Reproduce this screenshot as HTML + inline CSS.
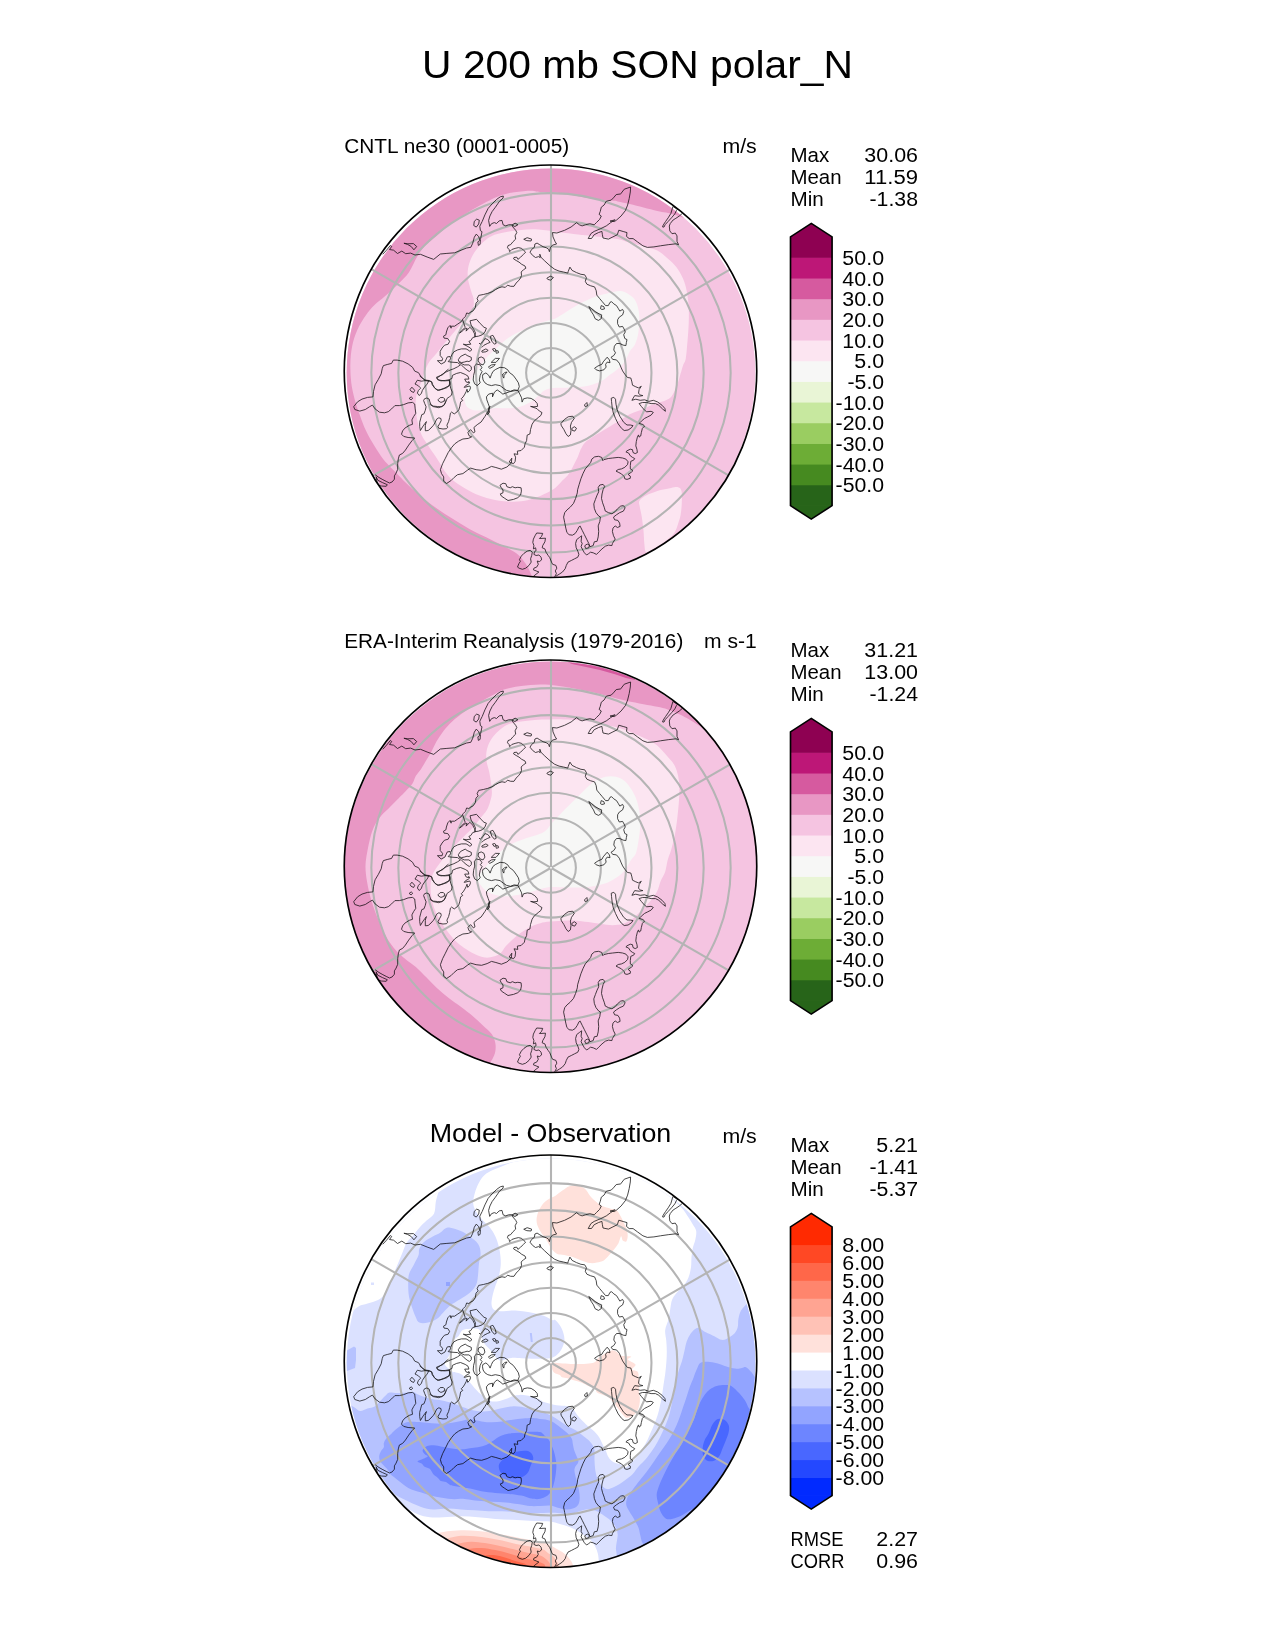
<!DOCTYPE html>
<html><head><meta charset="utf-8"><title>U 200 mb SON polar_N</title>
<style>html,body{margin:0;padding:0;background:#fff}body{width:1275px;height:1650px;overflow:hidden;position:relative}svg{position:absolute;left:0;top:0;display:block}text{font-family:"Liberation Sans",sans-serif;fill:#000}svg{will-change:transform;opacity:0.999}</style></head><body>
<svg width="1275" height="1650" viewBox="0 0 1275 1650">
<defs>
<clipPath id="clip0"><circle cx="550.50" cy="371.25" r="206.25"/></clipPath>
<clipPath id="dclip0"><circle cx="551.00" cy="372.80" r="204.30"/></clipPath>
<clipPath id="clip1"><circle cx="550.50" cy="866.25" r="206.25"/></clipPath>
<clipPath id="dclip1"><circle cx="551.00" cy="867.80" r="206.40"/></clipPath>
<clipPath id="clip2"><circle cx="550.50" cy="1361.25" r="206.25"/></clipPath>
<clipPath id="dclip2"><circle cx="551.00" cy="1362.80" r="204.30"/></clipPath>
<g id="coast" fill="none" stroke="#000" stroke-width="0.85" stroke-linejoin="round" stroke-linecap="round" opacity="0.85">
<path d="M478.2 241.6 L480.4 240.0 L480.1 244.4 L478.7 245.2Z"/>
<path d="M404.3 243.3 L407.9 243.8 L413.4 243.6 L416.7 246.5 L413.9 249.8 L411.2 246.5 L407.9 244.6Z"/>
<path d="M473.8 225.1 L474.3 221.3 L476.7 219.1 L479.3 220.2 L478.7 224.0 L476.5 226.8Z"/>
<path d="M383.0 254.0 L386.5 250.2 L390.3 245.5 L391.7 246.5 L389.5 249.5 L393.6 250.2 L397.5 253.5 L401.8 251.1 L405.7 253.7 L410.6 253.1 L415.0 255.0 L420.5 254.3 L427.1 257.0 L433.7 259.4 L440.3 254.0 L446.9 253.4 L454.6 252.8 L461.1 250.2 L466.6 248.0 L470.8 247.3 L472.7 243.3 L474.3 237.2 L476.3 234.1 L478.7 236.7 L479.8 240.0 L480.7 238.3 L482.0 231.7 L480.4 230.6 L479.8 226.2 L482.0 221.8 L482.2 221.5 L484.9 214.9 L488.2 208.3 L492.1 203.9 L496.5 199.5 L500.3 196.8 L503.3 196.0 L503.1 197.9 L499.2 201.7 L495.4 207.2 L492.1 211.6 L489.9 216.0 L488.6 220.4 L489.7 226.4 L491.5 223.7 L494.3 222.6 L496.5 223.5 L499.2 220.9 L502.0 220.4 L503.1 224.8 L505.8 225.9 L508.5 224.8 L511.8 224.8 L512.9 227.0 L515.7 230.3 L516.8 232.5 L515.1 235.8 L515.7 239.1 L512.9 241.8 L510.7 244.6 L508.0 245.6 L507.5 247.8 L509.1 249.5 L509.6 251.7 L511.8 249.5 L515.1 248.4 L518.4 247.6 L521.7 248.4 L523.9 250.6 L525.6 252.2 L523.4 254.4 L520.6 257.2 L517.9 259.4 L516.8 257.2 L514.0 257.5 L513.5 258.8 L516.2 260.5 L519.0 262.1 L521.7 264.3 L525.0 266.0 L525.9 268.2 L523.4 269.8 L521.2 272.0 L521.5 275.3 L520.6 278.0 L518.4 280.8 L516.2 283.0 L514.0 286.3 L510.7 286.3 L507.5 285.2 L505.3 287.4 L502.0 286.8 L498.7 287.9 L495.4 289.6 L492.1 291.8 L487.7 293.4 L483.3 294.5 L478.7 295.4 L477.1 298.7 L478.2 300.9 L476.0 303.1 L475.4 307.5 L473.2 310.8 L471.0 311.9 L468.8 313.5 L466.6 313.0 L465.5 316.3 L463.3 318.5 L461.1 321.8 L457.8 324.0 L454.6 326.2 L451.3 326.2 L451.1 328.2 L450.1 325.4 L447.8 327.8 L446.4 332.0 L445.9 334.8 L443.5 336.2 L444.0 338.1 L447.8 338.6 L449.6 341.4 L448.2 344.2 L444.5 345.2 L442.1 348.0 L440.2 351.3 L440.2 355.5 L442.6 358.4 L442.1 360.7 L437.4 360.7 L441.2 364.0 L444.9 362.1 L447.3 356.9 L450.1 356.5 L450.6 358.8 L448.2 361.6 L451.1 362.1 L457.6 362.6 L460.5 364.9 L457.6 366.8 L453.9 368.7 L450.1 370.1 L444.9 372.5 L436.9 378.1 L438.8 380.0 L444.5 380.9 L449.6 380.5 L450.1 384.7 L447.3 387.5 L443.5 388.9 L438.8 390.4 L435.1 388.5 L432.2 384.7 L431.8 381.9 L428.9 380.5 L424.7 380.0 L420.0 376.2"/>
<path d="M512.4 224.8 L515.1 223.1 L517.9 224.8 L515.1 226.4Z"/>
<path d="M524.1 239.1 L527.2 237.7 L531.6 239.1 L531.1 241.0 L527.2 240.7Z"/>
<path d="M547.2 278.0 L550.3 276.2 L553.4 277.5 L550.8 280.2 L548.1 279.5Z"/>
<path d="M470.4 320.7 L476.5 319.3 L480.2 323.5 L484.0 327.3 L486.4 328.2 L484.9 332.0 L482.1 334.8 L478.4 336.2 L474.6 336.7 L475.5 332.9 L473.6 329.2 L471.3 325.4Z"/>
<path d="M462.8 320.2 L465.2 327.3 L462.4 330.1 L459.5 332.9 L461.4 332.0 L464.2 329.2 L467.1 328.2 L466.1 331.1 L469.9 327.3 L472.7 330.1 L474.6 333.9 L475.5 336.7 L472.7 337.6 L470.8 340.5 L468.9 341.4 L470.8 344.2 L466.1 344.7 L463.3 344.2 L467.1 346.1 L470.4 348.0 L471.8 349.9 L469.9 351.3 L468.0 349.9 L466.1 348.9 L461.4 348.9 L457.6 349.9 L453.9 351.8 L452.0 354.6 L451.1 356.5"/>
<path d="M458.6 359.3 L460.5 356.5 L465.2 354.1 L467.1 355.5 L471.3 357.4 L471.3 360.2 L468.9 361.6 L467.1 361.2 L464.2 362.1 L461.4 362.6 L459.1 361.6Z"/>
<path d="M459.5 362.6 L464.2 364.9 L468.9 364.9 L471.3 366.8 L471.3 369.6 L469.4 371.5 L467.1 370.1 L464.2 367.8 L461.4 364.9"/>
<path d="M474.6 365.9 L476.5 364.0 L480.2 364.9 L482.1 367.8 L480.2 369.6 L482.1 371.5 L480.2 375.3 L479.3 380.0 L480.2 382.8 L477.4 385.6 L474.6 383.8 L473.2 380.0 L473.6 375.3 L474.6 371.5Z"/>
<path d="M478.8 357.9 L481.2 356.9 L484.0 358.4 L484.9 362.1 L483.1 364.9 L480.2 364.0 L478.4 361.2Z"/>
<path d="M482.1 350.8 L485.9 348.9 L488.2 350.4 L485.9 351.8 L482.6 352.2Z"/>
<path d="M482.1 347.1 L484.0 345.2 L487.8 343.3 L490.1 342.4 L487.8 339.5 L484.9 338.6 L483.1 341.4 L480.2 344.2 L479.3 343.3"/>
<path d="M490.6 336.2 L492.9 335.3 L495.3 339.5 L496.2 343.3 L494.4 344.2 L492.0 341.4Z"/>
<path d="M492.9 348.9 L494.8 348.5 L496.2 350.4 L494.4 351.3Z"/>
<path d="M496.2 350.8 L498.1 350.8 L498.6 352.7 L496.7 353.2Z"/>
<path d="M491.5 362.1 L495.3 358.4 L499.5 358.4 L496.2 362.1Z"/>
<path d="M488.7 366.8 L491.5 364.9 L495.3 364.5 L493.4 366.4 L490.1 368.2Z"/>
<path d="M483.1 374.4 L485.9 372.9 L488.7 375.3 L490.1 378.1 L491.5 374.4 L492.9 371.5 L495.3 369.6 L500.0 367.3 L504.7 367.8 L508.0 370.1 L509.4 372.5 L513.2 375.3 L516.0 379.1 L518.4 382.8 L519.3 386.6 L517.9 390.4 L514.1 389.9 L510.4 391.3 L506.6 390.4 L503.8 388.5 L500.0 385.6 L495.3 384.7 L491.5 385.6 L487.8 384.7 L484.9 382.8 L483.1 380.0 L482.6 377.2Z"/>
<path d="M502.8 374.4 L504.7 372.5 L507.1 372.0 L504.2 375.3 L503.8 378.1 L502.8 376.2 L502.8 374.4"/>
<path d="M487.8 414.4 L489.6 412.0 L488.7 409.2 L489.2 406.4 L488.2 403.5 L486.8 399.8 L486.4 396.9 L488.7 394.1 L492.5 393.2 L492.5 396.9 L494.4 392.2 L497.2 389.9 L500.0 391.8 L502.8 394.1 L505.6 393.2 L509.4 391.8 L514.1 390.8 L517.9 390.4 L519.8 394.1 L521.6 397.9 L522.1 402.1 L523.5 398.8 L527.3 397.9 L531.1 398.4 L534.8 400.7 L537.2 403.5 L537.6 406.4 L533.9 406.8 L530.6 406.4 L535.8 408.2 L537.1 408.8 L539.3 411.0 L542.0 412.6 L540.9 415.4 L538.2 417.6 L534.3 420.9 L532.1 424.2 L530.5 429.6 L529.9 434.0 L527.2 435.1 L526.6 440.6 L525.0 443.9 L524.4 447.2 L521.1 450.5 L517.3 451.1 L517.8 454.4 L514.0 453.8 L515.6 457.1 L515.1 461.5 L513.5 463.7 L509.1 462.0 L511.8 458.2 L511.3 463.1 L506.9 467.0 L501.4 469.2 L495.9 467.5 L491.5 466.4 L487.1 468.6 L481.6 470.3 L476.1 469.7 L470.6 468.1 L467.3 470.3 L462.9 473.6 L457.5 474.7 L454.2 477.4 L450.9 480.7 L446.5 483.5 L443.7 481.3 L443.7 476.9 L441.5 473.6 L440.4 469.7 L442.6 463.7 L445.4 458.2 L448.1 452.7 L451.4 447.8 L454.7 443.9 L458.5 441.2 L462.9 439.0 L468.4 438.4 L471.7 436.8 L469.0 435.7 L467.9 432.4 L470.6 429.6 L473.4 432.9 L475.0 431.8 L473.9 427.5 L477.2 424.7 L481.1 422.0 L484.9 416.5 L488.2 411.0 L489.8 406.6Z"/>
<path d="M500.3 485.1 L503.0 483.2 L505.8 483.7 L506.9 486.7 L510.2 487.8 L512.4 486.7 L515.1 487.8 L517.8 487.3 L521.1 487.8 L521.4 491.1 L520.6 495.0 L517.8 497.7 L513.5 499.4 L508.0 500.5 L504.7 498.3 L501.4 496.1 L500.3 493.9 L503.0 492.8 L503.0 490.0 L501.4 487.8Z"/>
<path d="M430.0 404.4 L433.3 406.6 L438.8 407.7 L443.7 405.5 L445.4 402.2 L444.8 400.0"/>
<path d="M428.7 380.9 L425.1 380.2 L421.3 377.1 L418.5 372.7 L414.7 371.1 L412.5 367.2 L408.1 363.9 L402.6 361.2 L397.1 360.1 L393.3 360.1 L391.6 363.4 L387.2 364.5 L383.4 365.6 L382.3 368.3 L381.2 373.8 L378.4 379.3 L375.1 384.8 L373.5 391.4 L372.9 396.9 L367.5 397.4 L362.0 399.1 L357.6 401.8 L353.7 406.7 L354.8 409.5 L359.8 411.1 L365.3 409.5 L369.6 406.7 L372.4 405.1 L375.1 408.9 L379.5 412.2 L384.5 412.8 L388.3 411.7 L391.6 408.9 L394.9 405.6 L399.3 405.6 L403.7 404.6 L408.1 402.9 L412.5 402.4 L414.7 404.0 L415.2 408.9 L415.8 413.3 L413.6 416.6 L411.9 419.9 L412.5 424.3 L409.2 425.4 L404.8 428.2 L402.6 430.9 L401.5 434.2 L403.7 436.4 L408.1 437.5 L414.7 438.0 L412.0 440.7 L408.7 445.1 L405.4 450.1 L402.6 453.4 L399.4 455.0 L398.3 458.9 L397.7 463.8 L397.7 469.3 L396.1 473.1 L394.4 475.9 L394.4 479.2 L392.2 481.9 L389.5 483.0 L386.2 481.4 L382.9 479.7 L379.0 477.5 L375.5 475.0"/>
<path d="M376.3 477.2 L377.9 480.3 L382.3 482.5 L387.3 484.7 L386.2 486.3 L381.2 486.0 L377.9 484.7Z"/>
<path d="M415.2 383.7 L417.4 380.2 L421.3 381.2 L425.1 380.6 L428.7 381.2 L427.0 384.2 L424.6 387.0 L422.4 390.3 L421.3 393.6 L419.1 395.5 L417.4 393.0 L418.5 390.3 L420.7 388.1 L418.5 385.9 L416.6 384.8Z"/>
<path d="M410.3 389.2 L411.9 387.2 L414.7 390.3 L413.6 392.5 L411.4 391.4Z"/>
<path d="M409.4 398.2 L411.2 396.9 L412.7 398.2 L411.4 399.6Z"/>
<path d="M428.7 380.9 L431.4 381.7 L432.8 384.8 L434.4 387.5 L437.2 390.3 L441.0 389.4 L444.3 388.1 L448.7 385.9 L450.0 383.1 L449.3 379.8 L445.4 380.4 L441.0 380.9 L437.7 379.8 L436.4 377.3 L439.4 376.0 L443.2 374.4 L445.4 371.6 L448.2 369.4"/>
<path d="M554.8 576.6 L556.4 573.6 L555.3 570.9 L556.8 568.2 L555.9 565.4 L552.6 564.3 L551.5 562.1 L549.8 557.7 L548.2 555.5 L546.0 552.2 L544.9 548.9 L542.2 547.8 L542.7 545.6 L544.9 541.8 L545.5 538.2 L539.4 538.5 L541.6 536.3 L542.7 533.4 L536.7 533.0 L535.0 535.8 L533.4 539.1 L532.8 542.4 L533.9 545.6 L533.4 548.9 L535.6 547.8 L536.1 550.6 L534.5 551.7 L533.9 554.4 L536.1 555.5 L538.9 555.0 L541.1 557.2 L541.6 559.9 L539.4 561.6 L537.2 561.0 L538.3 564.3 L536.7 567.1 L533.9 568.2 L533.4 569.8 L536.1 570.9 L538.9 572.0 L536.1 574.2 L533.7 576.1"/>
<path d="M519.6 559.4 L521.3 556.1 L524.0 553.3 L527.3 551.1 L530.1 550.3 L532.3 552.2 L531.7 555.5 L530.6 558.8 L531.2 562.1 L529.0 565.4 L525.7 568.2 L522.4 569.3 L519.1 568.2 L517.5 567.1 L518.8 563.8 L520.2 561.6Z"/>
<path d="M682.1 213.6 L679.2 216.1 L675.9 218.3 L673.1 220.0 L670.2 223.6 L669.3 226.0 L669.8 230.9 L672.0 233.7 L675.3 233.1 L677.0 235.9 L677.0 241.4 L678.6 244.7 L675.9 243.8 L668.2 244.7 L660.5 245.8 L653.9 246.9 L647.3 247.4 L642.9 245.8 L637.5 241.9 L633.1 238.6 L629.2 238.6 L626.5 236.4 L627.0 232.6 L623.2 231.5 L618.8 230.2 L617.3 234.7 L612.9 236.9 L608.5 239.1 L603.0 238.0 L602.4 234.7 L601.9 231.4 L598.6 232.5 L594.2 234.7 L591.5 238.5 L588.2 238.5 L590.9 233.6 L594.2 231.4 L600.8 228.6 L606.3 225.9 L610.7 222.6 L615.1 219.8 L610.0 221.1 L614.4 221.6 L616.6 220.0 L621.0 216.1 L625.4 210.6 L627.6 205.1 L629.2 198.5 L630.3 192.0 L630.6 187.0 L624.3 189.2 L620.4 194.2 L620.0 194.0 L616.2 194.6 L613.4 197.9 L611.2 200.1 L606.3 201.2 L604.1 205.0 L601.3 207.2 L600.2 211.6 L599.1 214.4 L601.3 216.0 L599.7 219.3 L596.4 222.6 L594.2 224.8 L589.8 223.7 L585.4 224.8 L582.1 225.9 L579.4 224.8 L576.6 222.6 L571.1 227.0 L564.6 230.3 L556.9 233.0 L552.5 232.5 L553.0 236.9 L555.2 241.8 L556.6 244.0 L552.5 245.1 L550.3 247.8 L549.4 251.7 L548.6 249.2 L546.4 247.8 L543.1 246.7 L539.8 244.8 L537.1 243.1 L534.9 244.0 L534.4 247.3 L531.6 249.5 L530.0 252.2 L532.7 255.5 L535.5 257.5 L538.7 256.6 L540.2 257.7 L539.8 254.2 L540.9 257.2 L544.8 261.0 L550.3 266.0 L554.7 269.3 L559.1 271.1 L563.5 272.0 L567.8 273.1 L568.2 271.5 L569.9 267.1 L572.1 270.4 L576.5 272.6 L580.9 274.3 L584.7 274.8 L586.4 277.6 L585.3 281.4 L586.9 284.2 L590.7 285.8 L594.6 286.9 L596.2 290.7 L596.8 295.1 L599.5 298.4 L602.3 301.7 L605.6 305.6 L608.3 305.6 L610.0 302.3 L611.6 301.7 L613.8 303.9 L616.5 305.6 L618.2 308.3 L619.8 311.1 L622.6 309.4 L623.7 311.6 L622.6 314.9 L619.3 317.1 L617.6 319.8 L617.6 323.7 L619.3 327.0 L622.6 326.4 L624.2 329.2 L625.3 331.9 L623.7 334.7 L624.8 338.5 L627.0 339.6 L626.4 342.4 L625.9 345.6 L623.1 345.1 L619.8 343.5 L616.5 343.5 L614.4 346.2 L613.8 350.0 L615.5 352.8 L613.8 355.5 L611.1 357.2 L612.7 359.4 L616.5 359.9 L619.3 363.2 L620.9 367.1 L622.6 370.9 L624.8 374.2 L627.5 377.5 L630.8 378.0 L631.9 381.9 L632.5 385.2 L635.8 386.8 L638.5 387.9 L641.3 386.3 L639.1 389.6 L638.5 393.4 L640.7 395.1 L642.9 395.6 L639.1 396.2 L634.7 395.6 L631.9 400.3 L635.8 399.2 L640.2 400.3 L644.6 399.8 L648.9 401.4 L653.3 400.3 L657.7 402.0 L662.1 405.3 L664.9 408.5 L665.4 411.3 L662.7 409.1 L658.8 405.3 L655.5 403.6 L651.1 403.6 L646.7 402.5 L642.4 402.5 L639.1 403.6 L641.3 406.4 L644.6 410.2 L646.7 411.8 L651.1 411.3 L653.3 412.4 L651.1 415.1 L647.8 416.8 L644.6 418.4 L641.3 421.2 L639.1 423.4 L642.9 424.5 L644.6 426.1 L642.4 428.3 L641.3 432.7 L640.7 436.0 L639.1 437.1 L638.5 434.9 L637.4 437.1 L636.3 441.5 L635.8 445.9 L636.9 449.2 L637.4 452.5 L635.2 453.6 L633.0 452.5 L632.5 449.7 L630.3 449.2 L627.0 450.8 L625.9 451.9 L628.6 453.0 L630.3 455.8 L632.5 457.4 L634.7 458.5 L633.6 460.2 L630.8 461.3 L630.3 465.6 L630.3 468.9 L633.0 470.6 L631.4 472.2 L628.1 474.4 L630.3 476.1 L630.3 478.3 L627.0 479.4 L624.8 478.8 L624.2 476.6 L621.5 473.9 L618.2 472.2 L616.0 471.1 L618.2 469.5 L621.5 468.9 L624.8 467.3 L627.5 464.6 L628.1 461.8 L625.9 459.1 L622.6 458.0 L618.2 457.4 L612.7 458.0 L608.3 458.5 L603.9 459.6 L602.8 460.7 L601.7 457.4 L598.4 456.3 L594.6 456.9 L591.8 459.1 L590.7 462.4 L588.5 465.1 L585.3 468.9 L583.1 473.3 L580.9 478.8 L579.2 484.3 L577.6 489.8 L577.3 492.9 L575.6 498.4 L573.5 503.4 L570.2 507.2 L566.9 510.0 L564.7 512.7 L563.6 517.1 L564.7 522.6 L565.8 528.1 L566.9 532.5 L569.1 534.7 L572.4 535.2 L575.1 533.6 L577.3 530.3 L578.9 527.0 L580.0 525.9 L582.2 530.3 L584.4 534.7 L586.6 539.1 L588.8 543.5 L589.9 546.7 L593.2 545.6 L594.3 541.8 L597.1 541.3 L598.2 536.9 L598.7 531.4 L598.2 525.9 L599.8 521.5 L600.4 517.1 L598.7 516.0 L596.0 512.7 L594.3 508.3 L593.8 503.9 L595.4 499.5 L597.1 495.1 L598.7 491.8 L598.2 487.5 L599.8 485.0 L603.1 484.4 L604.7 486.4 L603.1 489.6 L602.0 494.0 L601.5 498.4 L602.6 502.8 L604.2 507.2 L605.3 511.1 L608.6 512.7 L611.9 513.8 L615.2 511.6 L617.4 508.9 L620.7 506.1 L623.4 505.6 L625.1 507.8 L623.4 511.1 L619.6 512.7 L616.3 514.9 L613.5 517.1 L614.6 519.8 L617.9 520.4 L619.6 523.1 L620.1 526.4 L617.4 527.5 L615.2 525.9 L613.0 528.1 L612.4 531.4 L613.5 535.8 L615.2 539.1 L612.4 543.5 L611.9 545.6 L608.6 545.1 L605.3 546.2 L602.0 548.9 L598.7 552.2 L596.5 554.4 L593.2 552.8 L590.5 552.2 L588.3 553.9 L586.6 555.0 L584.4 552.8 L582.8 550.0 L581.1 546.7 L582.2 543.5 L581.1 541.3 L581.7 535.8 L579.5 537.4 L576.7 539.6 L575.6 543.5 L576.2 547.8 L577.8 551.1 L578.9 554.4 L577.8 557.2 L574.6 558.8 L571.3 560.5 L568.0 562.1 L566.3 565.4 L565.2 568.7 L562.5 572.0 L559.2 574.2 L556.1 576.1"/>
<path d="M672.8 206.8 L670.9 213.4 L668.2 217.8 L665.5 221.6 L663.3 224.9 L662.5 226.9 L664.0 227.1 L665.1 224.7 L668.2 221.4 L671.5 217.8 L674.8 213.9 L676.4 210.6 L677.2 209.7Z"/>
<path d="M561.1 423.4 L564.4 419.5 L568.2 416.8 L572.6 416.2 L574.3 418.4 L571.5 422.3 L570.4 426.1 L571.0 430.5 L570.4 434.9 L568.2 436.5 L566.0 433.8 L563.8 429.4 L561.6 426.1Z"/>
<path d="M572.1 428.3 L574.3 426.7 L576.5 428.3 L574.8 431.1 L572.6 430.5Z"/>
<path d="M584.7 404.7 L586.9 402.5 L587.5 405.8 L585.5 406.4Z"/>
<path d="M611.6 398.1 L613.8 397.3 L615.5 399.2 L616.0 404.2 L617.1 409.6 L619.8 416.2 L623.7 422.3 L627.0 425.0 L630.3 425.0 L633.0 425.6 L631.4 427.8 L628.1 430.0 L624.2 430.5 L621.5 428.3 L618.2 423.9 L615.5 418.4 L613.3 412.9 L612.2 407.5 L611.6 402.0Z"/>
<path d="M600.6 308.3 L601.2 305.6 L603.9 306.7 L604.5 308.9 L602.3 309.4Z"/>
<path d="M589.1 306.7 L591.3 308.3 L595.1 311.6 L599.0 313.8 L601.7 314.9 L601.2 318.7 L598.4 320.4 L595.1 318.7 L593.5 314.9 L591.3 311.6Z"/>
<path d="M603.4 361.6 L607.2 357.2 L609.4 359.9 L610.0 362.7 L607.2 362.1 L605.6 364.3 L606.1 367.1 L603.9 369.8 L599.5 370.9 L596.2 369.8 L594.6 368.2 L597.9 366.0 L601.7 364.3Z"/>
<path d="M585.0 545.6 L587.2 544.0 L589.4 545.1 L588.8 547.8 L586.1 548.4Z"/>
<path d="M449.3 380.0 L449.7 384.2 L450.8 388.5 L452.2 392.0 L451.5 395.2 L449.3 396.9 L447.2 398.3 L445.8 401.9 L444.4 404.7 L441.6 406.8 L437.3 406.5 L433.1 406.1 L431.0 404.7 L429.9 401.9 L429.2 399.1 L426.8 398.0 L424.6 398.7 L423.6 400.5 L424.6 403.3 L426.1 406.8 L425.3 410.3 L423.9 413.9 L421.8 414.6 L420.8 418.1 L419.7 422.3 L419.7 426.6 L420.4 430.5 L423.2 425.9 L426.4 421.6 L425.3 425.2 L425.3 430.8 L428.2 430.5 L431.0 428.0 L433.5 425.2 L435.2 422.3 L436.6 419.2 L438.8 417.8 L440.9 418.5 L441.2 420.6 L439.5 423.8 L438.0 426.6 L438.8 428.3 L443.0 429.0 L446.5 428.7 L447.6 427.3 L446.9 425.2 L448.6 421.6 L449.7 417.4 L450.4 413.2 L451.5 412.1 L454.3 413.9 L457.1 411.8 L458.9 409.6 L459.9 406.1 L460.6 401.9 L462.7 400.5 L461.3 398.7 L463.1 396.9 L464.9 394.1 L466.3 391.3 L467.0 389.2 L467.7 392.4 L469.5 390.6 L470.5 387.8 L469.8 386.0 L467.0 386.7 L464.2 387.4 L465.6 385.6 L468.4 384.2 L469.8 382.8 L468.7 381.4 L468.9 382.8 L466.1 381.9 L464.7 379.1 L468.9 379.1 L468.0 376.2 L465.2 374.4 L460.5 372.5 L456.7 373.4 L452.5 375.3 L452.0 378.1Z"/>
<path d="M438.4 399.4 L440.2 397.6 L443.3 397.5 L444.8 399.1 L443.7 401.5 L440.9 402.4 L438.8 401.2Z"/>
</g>
<g id="grat" fill="none" stroke="#b4b4b4" stroke-width="2.08">
<circle cx="551.0" cy="372.8" r="24.88"/>
<circle cx="551.0" cy="372.8" r="49.85"/>
<circle cx="551.0" cy="372.8" r="75.02"/>
<circle cx="551.0" cy="372.8" r="100.48"/>
<circle cx="551.0" cy="372.8" r="126.33"/>
<circle cx="551.0" cy="372.8" r="152.68"/>
<circle cx="551.0" cy="372.8" r="179.67"/>
<path d="M551.00 373.72 L551.00 602.80"/>
<path d="M551.00 371.88 L551.00 142.80"/>
<path d="M551.80 373.26 L750.19 487.80"/>
<path d="M550.20 372.34 L351.81 257.80"/>
<path d="M551.80 372.34 L750.19 257.80"/>
<path d="M550.20 373.26 L351.81 487.80"/>
</g>
</defs>
<text x="637.50" y="78.00" font-size="39.00" text-anchor="middle" textLength="430.77" lengthAdjust="spacingAndGlyphs">U 200 mb SON polar_N</text>
<g clip-path="url(#clip0)">
<g clip-path="url(#dclip0)"><g transform="translate(0,0.0)">
<path d="M100 0H1000V700H100Z" fill="#f5c4e1"/>
<path d="M700.0 223.0 C697.8 222.3 690.7 220.0 686.7 218.7 C682.8 217.4 679.8 216.2 676.3 215.2 C672.8 214.2 669.2 213.3 666.0 212.6 C662.8 211.9 661.0 211.8 657.3 210.9 C653.5 210.1 648.1 208.7 643.5 207.5 C638.9 206.3 634.0 205.0 629.7 204.0 C625.4 203.0 621.2 202.0 617.7 201.4 C614.2 200.8 613.3 201.0 609.0 200.6 C604.7 200.2 597.5 199.7 591.8 198.8 C586.0 197.9 580.2 196.4 574.5 195.4 C568.8 194.4 563.0 193.4 557.3 192.8 C551.5 192.2 544.6 192.2 540.0 191.9 C535.4 191.6 534.4 190.6 529.8 190.7 C525.2 190.8 516.9 191.8 512.6 192.4 C508.3 193.0 506.8 193.6 503.9 194.5 C501.0 195.4 499.6 195.6 495.3 197.6 C491.0 199.6 483.8 203.4 478.0 206.6 C472.2 209.8 465.4 214.0 460.8 216.9 C456.2 219.8 454.4 220.6 450.4 223.8 C446.4 227.0 440.6 232.4 436.6 235.9 C432.6 239.4 429.5 241.3 426.3 244.6 C423.1 247.9 420.6 251.2 417.7 255.8 C414.8 260.4 412.2 267.6 409.0 272.2 C405.8 276.8 402.7 279.4 398.7 283.4 C394.7 287.4 388.9 292.7 384.9 296.3 C380.9 299.9 377.7 301.8 374.5 305.0 C371.3 308.2 368.8 311.1 365.9 315.3 C363.0 319.5 359.6 324.8 357.3 330.0 C355.0 335.2 353.2 340.8 352.1 346.4 C351.0 352.0 350.5 357.6 350.4 363.6 C350.2 369.6 350.5 376.3 351.2 382.3 C351.9 388.3 353.3 394.1 354.7 399.5 C356.1 404.9 357.9 409.8 359.8 415.0 C361.7 420.2 363.4 425.4 365.9 430.6 C368.3 435.8 371.6 441.4 374.5 446.1 C377.4 450.8 380.2 455.3 383.1 459.0 C386.0 462.7 389.2 465.8 391.8 468.5 C394.4 471.2 395.8 472.5 398.7 475.4 C401.6 478.3 405.0 482.1 409.0 485.8 C413.0 489.6 418.2 494.2 422.8 497.9 C427.4 501.6 431.7 504.8 436.6 508.2 C441.5 511.6 446.7 515.1 452.2 518.6 C457.7 522.1 463.6 525.7 469.4 528.9 C475.1 532.1 480.9 534.7 486.7 537.6 C492.4 540.5 499.0 543.6 503.9 546.2 C508.8 548.8 512.8 550.8 516.0 553.1 C519.2 555.4 520.9 557.5 522.9 560.0 C524.9 562.5 526.7 565.2 528.1 567.8 C529.5 570.4 530.5 572.6 531.5 575.5 C532.5 578.4 533.6 583.4 534.0 585.0 L520.0 640.0 L250.0 640.0 L250.0 100.0 L780.0 100.0 L780.0 230.0Z" fill="#e897c4"/>
<path d="M558.0 232.0 C551.4 231.2 544.5 229.8 538.4 229.5 C532.3 229.2 527.0 229.4 521.2 229.9 C515.5 230.4 508.8 231.5 503.9 232.5 C499.0 233.5 495.3 234.3 491.9 235.9 C488.4 237.5 485.8 239.7 483.2 242.0 C480.6 244.3 478.3 247.0 476.3 249.7 C474.3 252.4 472.5 255.2 471.1 258.4 C469.7 261.6 468.5 265.3 468.0 268.7 C467.5 272.1 467.5 275.3 468.0 279.0 C468.5 282.7 470.2 287.6 471.1 291.1 C472.1 294.6 473.4 296.9 473.7 299.8 C474.0 302.7 473.9 305.8 472.9 308.4 C471.9 311.0 469.7 312.7 467.7 315.3 C465.7 317.9 463.4 320.7 460.8 323.9 C458.2 327.1 455.1 330.9 452.2 334.3 C449.3 337.8 446.1 341.4 443.5 344.6 C440.9 347.8 439.2 350.1 436.6 353.3 C434.0 356.5 430.4 359.6 428.0 364.0 C425.6 368.4 423.9 374.6 422.0 380.0 C420.1 385.4 417.3 391.1 416.3 396.1 C415.3 401.1 415.6 405.3 415.9 409.9 C416.2 414.5 417.0 419.4 418.0 423.7 C419.0 428.0 420.6 432.6 422.0 435.8 C423.4 439.0 424.4 439.8 426.3 442.7 C428.2 445.6 430.9 449.6 433.2 453.0 C435.5 456.4 438.1 460.2 440.1 463.4 C442.1 466.6 443.3 469.3 445.3 472.0 C447.3 474.7 449.6 477.5 452.2 479.8 C454.8 482.1 457.4 483.7 460.8 485.8 C464.2 487.9 468.6 490.7 472.9 492.7 C477.2 494.7 481.5 496.5 486.7 497.9 C491.9 499.3 498.1 500.7 503.9 501.3 C509.6 501.9 516.0 501.9 521.2 501.3 C526.4 500.7 530.7 499.3 535.0 497.9 C539.3 496.5 543.6 494.4 547.1 492.7 C550.6 491.0 553.2 489.5 555.7 487.5 C558.2 485.5 560.4 482.6 562.4 480.6 C564.4 478.6 566.0 477.4 567.6 475.4 C569.2 473.4 570.8 470.5 571.9 468.5 C573.0 466.5 573.5 465.4 574.5 463.4 C575.5 461.4 577.0 458.8 578.0 456.5 C579.0 454.2 579.5 451.9 580.6 449.6 C581.8 447.3 583.0 444.7 584.9 442.7 C586.8 440.7 589.2 439.2 591.8 437.5 C594.4 435.8 597.5 434.0 600.4 432.3 C603.3 430.6 606.4 428.7 609.0 427.1 C611.6 425.5 613.6 424.2 615.9 422.8 C618.2 421.4 620.5 419.9 622.8 418.5 C625.1 417.1 627.4 415.3 629.7 414.2 C632.0 413.1 634.3 412.5 636.6 411.6 C638.9 410.7 641.2 410.0 643.5 409.0 C645.8 408.0 648.1 406.6 650.4 405.6 C652.7 404.6 655.0 403.8 657.3 403.0 C659.6 402.2 662.0 401.8 664.2 400.9 C666.4 400.0 668.6 399.5 670.3 397.8 C672.0 396.1 673.3 393.5 674.6 390.9 C675.9 388.3 677.1 385.2 678.1 382.3 C679.1 379.4 679.8 376.5 680.6 373.6 C681.5 370.7 682.3 367.5 683.2 365.0 C684.1 362.5 685.1 362.4 685.8 358.4 C686.5 354.4 687.0 346.9 687.5 341.2 C688.0 335.4 688.5 329.6 688.7 323.9 C688.9 318.1 689.0 312.2 688.7 306.7 C688.4 301.2 687.6 295.7 686.7 291.1 C685.8 286.5 684.9 283.1 683.2 279.1 C681.5 275.1 678.9 270.4 676.3 267.0 C673.7 263.6 670.9 261.1 667.7 258.4 C664.5 255.7 661.3 252.6 657.3 250.6 C653.3 248.6 648.1 247.6 643.5 246.3 C638.9 245.0 634.0 244.0 629.7 242.8 C625.4 241.6 624.0 240.2 617.7 239.0 C611.4 237.8 598.4 236.7 591.8 235.9 C585.2 235.2 583.6 235.2 578.0 234.5 C572.4 233.8 564.6 232.8 558.0 232.0Z" fill="#fce5f1"/>
<path d="M550.0 320.0 C546.1 321.3 539.1 323.1 534.1 325.0 C529.1 326.9 524.4 329.4 520.0 331.6 C515.6 333.8 511.1 336.0 507.8 338.2 C504.5 340.4 502.7 342.6 500.2 344.8 C497.7 347.0 494.9 349.4 492.7 351.4 C490.5 353.4 489.0 354.8 487.1 357.0 C485.2 359.2 483.3 362.0 481.4 364.5 C479.5 367.0 477.5 369.6 475.8 372.1 C474.1 374.6 472.5 377.1 471.1 379.6 C469.7 382.1 468.3 384.6 467.3 387.1 C466.3 389.6 465.3 392.1 464.9 394.6 C464.5 397.1 464.3 400.0 464.9 402.2 C465.4 404.4 466.4 406.4 468.2 407.8 C470.0 409.2 472.6 410.4 475.8 410.6 C479.0 410.8 483.7 409.6 487.1 409.2 C490.6 408.8 493.4 408.1 496.5 408.0 C499.6 407.9 502.8 408.3 505.9 408.3 C509.0 408.3 512.2 408.4 515.3 407.8 C518.4 407.2 521.6 406.4 524.7 405.0 C527.8 403.6 531.6 401.1 534.1 399.4 C536.6 397.7 538.2 396.0 539.8 394.6 C541.4 393.2 541.6 392.0 543.5 390.9 C545.4 389.8 548.0 388.7 551.1 388.2 C554.2 387.7 559.1 387.9 562.4 387.8 C565.7 387.7 568.2 387.5 571.1 387.4 C574.0 387.3 576.8 387.4 579.7 387.1 C582.6 386.8 585.4 386.4 588.3 385.7 C591.2 385.0 594.3 384.1 596.9 383.1 C599.5 382.1 601.8 381.0 603.8 379.7 C605.8 378.4 607.0 376.9 609.0 375.4 C611.0 373.9 613.3 372.8 615.9 370.5 C618.5 368.2 622.3 365.1 624.6 361.9 C626.9 358.7 628.0 354.4 629.7 351.5 C631.4 348.6 633.5 347.8 634.9 344.6 C636.3 341.5 637.7 337.5 638.4 332.6 C639.1 327.7 639.5 320.2 639.2 315.3 C638.9 310.4 637.9 306.4 636.6 303.2 C635.3 300.0 634.1 298.3 631.5 296.3 C628.9 294.3 624.9 291.7 621.1 291.1 C617.4 290.5 613.9 291.8 609.0 292.9 C604.1 294.0 597.5 295.7 591.8 298.0 C586.0 300.3 580.2 303.5 574.5 306.7 C568.8 309.9 561.4 315.2 557.3 317.4 C553.2 319.6 553.9 318.7 550.0 320.0Z" fill="#f7f7f6"/>
<path d="M639.2 501.3 C639.8 499.7 641.6 498.3 643.5 497.0 C645.4 495.7 647.5 494.8 650.4 493.6 C653.3 492.5 657.3 491.1 660.8 490.1 C664.2 489.2 668.2 488.4 671.1 487.9 C674.0 487.4 676.4 486.7 678.1 487.2 C679.8 487.7 680.9 488.4 681.5 491.0 C682.1 493.6 681.9 499.0 681.8 503.0 C681.6 507.0 681.2 511.6 680.6 515.1 C680.0 518.6 679.1 520.9 678.1 523.8 C677.1 526.7 676.3 529.8 674.6 532.4 C672.9 535.0 670.0 537.3 667.7 539.3 C665.4 541.3 663.4 542.8 660.8 544.5 C658.2 546.2 654.7 548.3 652.2 549.6 C649.8 550.9 647.4 553.1 646.1 552.2 C644.8 551.4 644.8 548.1 644.4 544.5 C644.0 540.9 643.9 535.3 643.5 530.7 C643.1 526.1 642.4 520.9 641.8 516.9 C641.2 512.9 640.1 509.1 639.7 506.5 C639.3 503.9 638.6 502.9 639.2 501.3Z" fill="#fce5f1"/>
</g></g>
<g transform="translate(0,0.0)"><use href="#grat"/><use href="#coast"/></g>
</g>
<circle cx="550.50" cy="371.25" r="206.25" fill="none" stroke="#000" stroke-width="1.67"/>
<text x="344.25" y="152.50" font-size="19.69" text-anchor="start" textLength="224.97" lengthAdjust="spacingAndGlyphs">CNTL ne30 (0001-0005)</text>
<text x="756.75" y="152.50" font-size="19.69" text-anchor="end" textLength="34.34" lengthAdjust="spacingAndGlyphs">m/s</text>
<text x="790.50" y="162.25" font-size="19.69" text-anchor="start" textLength="38.75" lengthAdjust="spacingAndGlyphs">Max</text>
<text x="918.00" y="162.25" font-size="19.88" text-anchor="end" textLength="53.64" lengthAdjust="spacingAndGlyphs">30.06</text>
<text x="790.50" y="184.25" font-size="19.69" text-anchor="start" textLength="51.08" lengthAdjust="spacingAndGlyphs">Mean</text>
<text x="918.00" y="184.25" font-size="19.88" text-anchor="end" textLength="53.64" lengthAdjust="spacingAndGlyphs">11.59</text>
<text x="790.50" y="206.25" font-size="19.69" text-anchor="start" textLength="33.27" lengthAdjust="spacingAndGlyphs">Min</text>
<text x="918.00" y="206.25" font-size="19.88" text-anchor="end" textLength="48.48" lengthAdjust="spacingAndGlyphs">-1.38</text>
<g shape-rendering="auto">
<path d="M790.50 237.35 L811.28 223.41 L832.07 237.35 Z" fill="#8e0152"/>
<path d="M790.50 505.15 L811.28 519.09 L832.07 505.15 Z" fill="#276419"/>
<rect x="790.50" y="484.67" width="41.56" height="21.28" fill="#276419"/>
<rect x="790.50" y="464.00" width="41.56" height="21.28" fill="#468a20"/>
<rect x="790.50" y="443.32" width="41.56" height="21.28" fill="#6dad36"/>
<rect x="790.50" y="422.64" width="41.56" height="21.28" fill="#9acd61"/>
<rect x="790.50" y="401.97" width="41.56" height="21.28" fill="#c7e89f"/>
<rect x="790.50" y="381.29" width="41.56" height="21.28" fill="#e9f5d6"/>
<rect x="790.50" y="360.61" width="41.56" height="21.28" fill="#f7f7f6"/>
<rect x="790.50" y="339.93" width="41.56" height="21.28" fill="#fce5f1"/>
<rect x="790.50" y="319.26" width="41.56" height="21.28" fill="#f5c4e1"/>
<rect x="790.50" y="298.58" width="41.56" height="21.28" fill="#e897c4"/>
<rect x="790.50" y="277.90" width="41.56" height="21.28" fill="#d65a9f"/>
<rect x="790.50" y="257.23" width="41.56" height="21.28" fill="#bd1777"/>
<rect x="790.50" y="236.55" width="41.56" height="21.28" fill="#8e0152"/>
<path d="M811.28 223.41 L832.07 236.85 L832.07 505.65 L811.28 519.09 L790.50 505.65 L790.50 236.85 Z" fill="none" stroke="#000" stroke-width="1.67" stroke-linejoin="miter"/>
</g>
<text x="884.10" y="492.37" font-size="19.88" text-anchor="end" textLength="48.48" lengthAdjust="spacingAndGlyphs">-50.0</text>
<text x="884.10" y="471.70" font-size="19.88" text-anchor="end" textLength="48.48" lengthAdjust="spacingAndGlyphs">-40.0</text>
<text x="884.10" y="451.02" font-size="19.88" text-anchor="end" textLength="48.48" lengthAdjust="spacingAndGlyphs">-30.0</text>
<text x="884.10" y="430.34" font-size="19.88" text-anchor="end" textLength="48.48" lengthAdjust="spacingAndGlyphs">-20.0</text>
<text x="884.10" y="409.67" font-size="19.88" text-anchor="end" textLength="48.48" lengthAdjust="spacingAndGlyphs">-10.0</text>
<text x="884.10" y="388.99" font-size="19.88" text-anchor="end" textLength="36.56" lengthAdjust="spacingAndGlyphs">-5.0</text>
<text x="884.10" y="368.31" font-size="19.88" text-anchor="end" textLength="29.80" lengthAdjust="spacingAndGlyphs">5.0</text>
<text x="884.10" y="347.63" font-size="19.88" text-anchor="end" textLength="41.72" lengthAdjust="spacingAndGlyphs">10.0</text>
<text x="884.10" y="326.96" font-size="19.88" text-anchor="end" textLength="41.72" lengthAdjust="spacingAndGlyphs">20.0</text>
<text x="884.10" y="306.28" font-size="19.88" text-anchor="end" textLength="41.72" lengthAdjust="spacingAndGlyphs">30.0</text>
<text x="884.10" y="285.60" font-size="19.88" text-anchor="end" textLength="41.72" lengthAdjust="spacingAndGlyphs">40.0</text>
<text x="884.10" y="264.93" font-size="19.88" text-anchor="end" textLength="41.72" lengthAdjust="spacingAndGlyphs">50.0</text>
<g clip-path="url(#clip1)">
<g clip-path="url(#dclip1)"><g transform="translate(0,495.0)">
<path d="M100 0H1000V700H100Z" fill="#f5c4e1"/>
<path d="M704.0 234.0 C703.3 233.5 701.1 231.8 699.6 230.8 C698.1 229.8 697.4 229.5 695.3 228.2 C693.1 226.9 689.6 224.6 686.7 223.0 C683.8 221.4 681.3 220.1 678.1 218.7 C674.9 217.3 671.2 215.6 667.7 214.4 C664.2 213.2 661.3 212.7 657.3 211.8 C653.3 210.9 648.7 210.2 643.5 209.2 C638.3 208.2 632.0 207.0 626.3 205.7 C620.5 204.4 614.8 202.8 609.0 201.4 C603.2 200.0 597.5 198.4 591.8 197.1 C586.0 195.8 580.2 194.7 574.5 193.6 C568.8 192.5 563.0 191.4 557.3 190.7 C551.5 190.0 546.0 189.4 540.0 189.5 C534.0 189.6 527.2 190.3 521.2 191.1 C515.2 191.9 508.8 192.9 503.9 194.5 C499.0 196.1 496.2 198.3 491.9 200.6 C487.6 202.9 482.6 205.6 478.0 208.3 C473.4 211.0 468.5 213.9 464.2 216.9 C459.9 219.9 455.6 223.2 452.2 226.4 C448.8 229.6 446.1 232.6 443.5 235.9 C440.9 239.2 438.6 242.9 436.6 246.3 C434.6 249.8 433.2 253.4 431.5 256.6 C429.8 259.8 428.0 262.4 426.3 265.3 C424.6 268.2 422.8 271.3 421.1 273.9 C419.4 276.5 417.3 278.4 415.9 280.8 C414.5 283.2 414.2 286.0 412.5 288.6 C410.8 291.2 407.9 293.9 405.6 296.3 C403.3 298.7 401.3 300.6 398.7 303.2 C396.1 305.8 392.9 309.0 390.0 311.9 C387.1 314.8 384.0 317.4 381.4 320.5 C378.8 323.6 376.4 327.1 374.5 330.8 C372.6 334.5 371.3 338.9 370.2 342.9 C369.1 346.9 368.4 351.0 367.6 355.0 C366.9 359.0 366.0 363.0 365.7 367.0 C365.4 371.0 365.4 374.2 365.9 378.8 C366.4 383.4 367.4 389.1 368.5 394.3 C369.6 399.5 371.2 405.0 372.8 409.9 C374.4 414.8 376.1 419.1 378.0 423.7 C379.9 428.3 382.0 433.5 384.0 437.5 C386.0 441.5 387.9 444.6 390.0 447.8 C392.1 451.0 394.3 453.8 396.9 456.5 C399.5 459.2 402.4 461.6 405.6 464.2 C408.8 466.8 412.4 469.0 415.9 472.0 C419.3 475.0 422.9 478.9 426.3 482.3 C429.8 485.8 432.9 489.2 436.6 492.7 C440.3 496.1 444.7 499.8 448.7 503.0 C452.7 506.2 456.8 508.7 460.8 511.7 C464.8 514.7 469.2 518.0 472.9 521.2 C476.6 524.4 480.0 527.7 483.2 530.7 C486.4 533.7 489.9 536.4 491.9 539.3 C493.9 542.2 494.7 545.0 495.3 547.9 C495.9 550.8 495.7 553.9 495.3 556.5 C494.9 559.1 493.6 561.5 492.7 563.4 C491.8 565.3 491.2 565.4 490.1 567.8 C489.0 570.2 486.7 576.3 486.0 578.0 L480.0 640.0 L250.0 640.0 L250.0 100.0 L780.0 100.0 L780.0 240.0Z" fill="#e897c4"/>
<path d="M564 165.5 L572 169 L585 171.8 L600 175 L615 179.3 L626 183 L635 185 L637 170 L564 158Z" fill="#d65a9f"/>
<path d="M549.0 224.5 C545.9 224.6 543.0 224.4 538.4 224.7 C533.8 225.0 526.1 225.7 521.2 226.4 C516.3 227.1 512.6 227.7 509.1 229.0 C505.7 230.3 503.1 232.2 500.5 234.2 C497.9 236.2 495.6 238.5 493.6 241.1 C491.6 243.7 489.6 246.8 488.4 249.7 C487.2 252.6 486.6 255.5 486.3 258.4 C486.0 261.3 486.2 263.9 486.7 267.0 C487.2 270.1 488.6 273.9 489.3 277.3 C490.0 280.8 490.6 284.2 491.0 287.7 C491.4 291.1 492.0 294.8 491.9 298.0 C491.8 301.2 491.0 303.8 490.1 306.7 C489.2 309.6 488.4 312.4 486.7 315.3 C485.0 318.2 482.1 321.0 479.8 323.9 C477.5 326.8 475.5 329.7 472.9 332.6 C470.3 335.5 466.8 338.6 464.2 341.2 C461.6 343.8 459.6 345.8 457.3 348.1 C455.0 350.4 452.7 352.4 450.4 355.0 C448.1 357.6 445.7 360.8 443.5 363.6 C441.3 366.4 438.9 369.2 437.0 372.0 C435.1 374.8 433.4 377.4 432.3 380.5 C431.2 383.6 430.7 387.1 430.6 390.9 C430.5 394.6 430.8 399.0 431.5 403.0 C432.2 407.0 433.5 411.3 434.9 415.0 C436.3 418.7 438.1 421.9 440.1 425.4 C442.1 428.9 444.4 432.4 447.0 435.8 C449.6 439.2 452.7 443.2 455.6 446.1 C458.5 449.0 461.0 450.9 464.2 453.0 C467.4 455.1 471.2 457.4 474.6 459.0 C478.1 460.6 481.7 462.1 484.9 462.5 C488.1 462.9 491.0 462.3 493.6 461.6 C496.2 460.9 498.5 459.9 500.5 458.2 C502.5 456.5 503.7 453.6 505.7 451.3 C507.7 449.0 510.0 446.7 512.6 444.4 C515.2 442.1 518.3 439.5 521.2 437.5 C524.1 435.5 526.9 433.8 529.8 432.3 C532.7 430.9 535.5 429.7 538.4 428.8 C541.3 427.9 543.1 427.3 547.1 426.8 C551.1 426.3 557.8 425.9 562.4 425.7 C567.0 425.5 570.2 425.2 574.5 425.4 C578.8 425.6 584.0 426.5 588.3 427.1 C592.6 427.7 596.4 428.3 600.4 428.8 C604.4 429.3 608.8 430.2 612.5 430.2 C616.2 430.2 619.6 429.8 622.8 428.8 C626.0 427.9 628.9 426.2 631.5 424.5 C634.1 422.8 636.1 420.6 638.4 418.5 C640.7 416.4 643.0 414.1 645.3 411.6 C647.6 409.2 650.2 406.4 652.2 403.8 C654.2 401.2 655.9 399.1 657.3 396.1 C658.7 393.1 659.5 388.9 660.8 385.7 C662.1 382.5 664.0 380.6 665.1 377.1 C666.2 373.7 666.7 368.7 667.7 365.0 C668.7 361.3 670.0 359.0 671.1 355.0 C672.2 351.0 673.6 346.4 674.6 341.2 C675.6 336.0 676.5 329.6 677.2 323.9 C677.9 318.1 678.5 311.9 678.9 306.7 C679.3 301.5 679.5 297.2 679.4 292.9 C679.3 288.6 678.9 284.6 678.1 280.8 C677.3 277.1 676.3 273.6 674.6 270.4 C672.9 267.2 670.0 264.5 667.7 261.8 C665.4 259.1 663.1 256.3 660.8 254.0 C658.5 251.7 656.8 249.9 653.9 248.0 C651.0 246.1 647.5 244.7 643.5 242.8 C639.5 240.9 634.0 238.5 629.7 236.8 C625.4 235.1 622.6 233.8 617.7 232.5 C612.8 231.2 606.2 230.2 600.4 229.0 C594.6 227.8 588.0 226.3 583.1 225.6 C578.2 224.9 575.4 224.9 571.1 224.7 C566.8 224.5 561.0 224.2 557.3 224.2 C553.6 224.2 552.1 224.4 549.0 224.5Z" fill="#fce5f1"/>
<path d="M605.6 281.7 C602.2 282.4 598.4 284.1 595.2 286.0 C592.0 287.9 589.5 290.3 586.6 292.9 C583.7 295.5 580.9 298.6 578.0 301.5 C575.1 304.4 572.2 307.2 569.3 310.1 C566.4 313.0 563.6 315.8 560.7 318.8 C557.8 321.8 554.9 324.9 552.0 328.0 C549.1 331.1 548.0 334.6 543.5 337.2 C539.0 339.8 530.2 341.8 524.7 343.8 C519.2 345.9 514.5 347.4 510.6 349.5 C506.7 351.6 504.2 353.6 501.2 356.1 C498.2 358.6 495.4 361.8 492.7 364.5 C490.0 367.2 487.4 369.6 485.2 372.1 C483.0 374.6 480.8 377.4 479.5 379.6 C478.2 381.8 477.3 383.3 477.6 385.2 C477.9 387.1 479.8 389.0 481.4 390.9 C483.0 392.8 484.6 394.9 487.1 396.5 C489.6 398.1 493.1 399.5 496.5 400.3 C499.9 401.1 503.9 401.4 507.8 401.2 C511.7 401.0 516.4 400.0 520.0 399.4 C523.6 398.8 526.3 398.3 529.4 397.5 C532.5 396.7 535.7 395.5 538.8 394.6 C541.9 393.7 544.7 392.7 548.2 392.3 C551.7 391.9 555.6 392.1 560.0 392.2 C564.4 392.2 570.4 392.6 574.5 392.6 C578.6 392.6 581.4 392.6 584.9 392.3 C588.4 392.0 591.8 391.6 595.2 390.9 C598.7 390.2 602.4 389.4 605.6 388.3 C608.8 387.2 611.6 385.6 614.2 384.0 C616.9 382.4 619.4 380.8 621.5 378.8 C623.6 376.8 625.4 374.3 627.0 372.0 C628.6 369.7 629.5 367.3 631.0 365.0 C632.5 362.7 634.6 361.5 635.8 358.4 C637.0 355.3 637.7 350.7 638.4 346.4 C639.1 342.1 639.9 337.2 640.1 332.6 C640.3 328.0 640.3 323.4 639.7 318.8 C639.1 314.2 638.0 309.0 636.6 305.0 C635.2 301.0 633.5 297.8 631.5 294.6 C629.5 291.4 627.2 288.1 624.6 286.0 C622.0 283.9 619.1 282.4 615.9 281.7 C612.7 281.0 609.0 281.0 605.6 281.7Z" fill="#f7f7f6"/>
</g></g>
<g transform="translate(0,495.0)"><use href="#grat"/><use href="#coast"/></g>
</g>
<circle cx="550.50" cy="866.25" r="206.25" fill="none" stroke="#000" stroke-width="1.67"/>
<text x="344.25" y="647.50" font-size="19.69" text-anchor="start" textLength="339.06" lengthAdjust="spacingAndGlyphs">ERA-Interim Reanalysis (1979-2016)</text>
<text x="756.75" y="647.50" font-size="19.69" text-anchor="end" textLength="52.67" lengthAdjust="spacingAndGlyphs">m s-1</text>
<text x="790.50" y="657.25" font-size="19.69" text-anchor="start" textLength="38.75" lengthAdjust="spacingAndGlyphs">Max</text>
<text x="918.00" y="657.25" font-size="19.88" text-anchor="end" textLength="53.64" lengthAdjust="spacingAndGlyphs">31.21</text>
<text x="790.50" y="679.25" font-size="19.69" text-anchor="start" textLength="51.08" lengthAdjust="spacingAndGlyphs">Mean</text>
<text x="918.00" y="679.25" font-size="19.88" text-anchor="end" textLength="53.64" lengthAdjust="spacingAndGlyphs">13.00</text>
<text x="790.50" y="701.25" font-size="19.69" text-anchor="start" textLength="33.27" lengthAdjust="spacingAndGlyphs">Min</text>
<text x="918.00" y="701.25" font-size="19.88" text-anchor="end" textLength="48.48" lengthAdjust="spacingAndGlyphs">-1.24</text>
<g shape-rendering="auto">
<path d="M790.50 732.35 L811.28 718.41 L832.07 732.35 Z" fill="#8e0152"/>
<path d="M790.50 1000.15 L811.28 1014.09 L832.07 1000.15 Z" fill="#276419"/>
<rect x="790.50" y="979.67" width="41.56" height="21.28" fill="#276419"/>
<rect x="790.50" y="959.00" width="41.56" height="21.28" fill="#468a20"/>
<rect x="790.50" y="938.32" width="41.56" height="21.28" fill="#6dad36"/>
<rect x="790.50" y="917.64" width="41.56" height="21.28" fill="#9acd61"/>
<rect x="790.50" y="896.97" width="41.56" height="21.28" fill="#c7e89f"/>
<rect x="790.50" y="876.29" width="41.56" height="21.28" fill="#e9f5d6"/>
<rect x="790.50" y="855.61" width="41.56" height="21.28" fill="#f7f7f6"/>
<rect x="790.50" y="834.93" width="41.56" height="21.28" fill="#fce5f1"/>
<rect x="790.50" y="814.26" width="41.56" height="21.28" fill="#f5c4e1"/>
<rect x="790.50" y="793.58" width="41.56" height="21.28" fill="#e897c4"/>
<rect x="790.50" y="772.90" width="41.56" height="21.28" fill="#d65a9f"/>
<rect x="790.50" y="752.23" width="41.56" height="21.28" fill="#bd1777"/>
<rect x="790.50" y="731.55" width="41.56" height="21.28" fill="#8e0152"/>
<path d="M811.28 718.41 L832.07 731.85 L832.07 1000.65 L811.28 1014.09 L790.50 1000.65 L790.50 731.85 Z" fill="none" stroke="#000" stroke-width="1.67" stroke-linejoin="miter"/>
</g>
<text x="884.10" y="987.37" font-size="19.88" text-anchor="end" textLength="48.48" lengthAdjust="spacingAndGlyphs">-50.0</text>
<text x="884.10" y="966.70" font-size="19.88" text-anchor="end" textLength="48.48" lengthAdjust="spacingAndGlyphs">-40.0</text>
<text x="884.10" y="946.02" font-size="19.88" text-anchor="end" textLength="48.48" lengthAdjust="spacingAndGlyphs">-30.0</text>
<text x="884.10" y="925.34" font-size="19.88" text-anchor="end" textLength="48.48" lengthAdjust="spacingAndGlyphs">-20.0</text>
<text x="884.10" y="904.67" font-size="19.88" text-anchor="end" textLength="48.48" lengthAdjust="spacingAndGlyphs">-10.0</text>
<text x="884.10" y="883.99" font-size="19.88" text-anchor="end" textLength="36.56" lengthAdjust="spacingAndGlyphs">-5.0</text>
<text x="884.10" y="863.31" font-size="19.88" text-anchor="end" textLength="29.80" lengthAdjust="spacingAndGlyphs">5.0</text>
<text x="884.10" y="842.63" font-size="19.88" text-anchor="end" textLength="41.72" lengthAdjust="spacingAndGlyphs">10.0</text>
<text x="884.10" y="821.96" font-size="19.88" text-anchor="end" textLength="41.72" lengthAdjust="spacingAndGlyphs">20.0</text>
<text x="884.10" y="801.28" font-size="19.88" text-anchor="end" textLength="41.72" lengthAdjust="spacingAndGlyphs">30.0</text>
<text x="884.10" y="780.60" font-size="19.88" text-anchor="end" textLength="41.72" lengthAdjust="spacingAndGlyphs">40.0</text>
<text x="884.10" y="759.93" font-size="19.88" text-anchor="end" textLength="41.72" lengthAdjust="spacingAndGlyphs">50.0</text>
<g clip-path="url(#clip2)">
<g clip-path="url(#dclip2)"><g transform="translate(0,990.0)">
<path d="M100 0H1000V700H100Z" fill="#dbe1ff"/>
<path d="M441.0 195.0 C440.6 196.2 439.3 199.5 438.4 202.3 C437.5 205.1 436.5 208.2 435.8 211.8 C435.1 215.4 435.6 220.6 434.0 223.8 C432.4 227.0 428.7 228.5 426.3 230.8 C423.9 233.1 421.7 235.1 419.4 237.7 C417.1 240.3 414.7 243.7 412.5 246.3 C410.3 248.9 408.1 250.3 406.4 253.2 C404.7 256.1 403.5 260.1 402.1 263.5 C400.7 266.9 399.2 270.4 397.8 273.9 C396.4 277.3 394.8 280.8 393.5 284.2 C392.2 287.6 391.3 291.4 390.0 294.6 C388.7 297.8 387.7 300.6 385.7 303.2 C383.7 305.8 381.0 308.4 378.0 310.1 C375.0 311.8 370.8 312.6 367.6 313.6 C364.4 314.6 361.3 315.1 359.0 316.2 C356.7 317.3 355.1 318.9 353.8 320.5 C352.5 322.1 352.5 324.1 351.2 325.7 C349.9 327.3 346.9 329.3 346.0 330.0 L300.0 330.0 L300.0 150.0 L446.0 150.0Z" fill="#ffffff"/>
<path d="M516.0 170.7 C514.3 171.4 509.1 173.3 505.7 174.7 C502.2 176.1 498.5 177.6 495.3 179.0 C492.1 180.4 489.0 181.7 486.7 183.3 C484.4 184.9 483.1 186.3 481.5 188.5 C479.9 190.7 478.4 193.5 477.2 196.2 C476.0 198.9 475.0 202.0 474.3 204.9 C473.6 207.8 472.9 210.6 473.2 213.5 C473.5 216.4 474.6 219.2 476.3 222.1 C478.0 225.0 480.9 228.2 483.2 230.8 C485.5 233.4 488.1 235.1 490.1 237.7 C492.1 240.3 493.9 243.2 495.3 246.3 C496.8 249.5 497.9 253.2 498.8 256.6 C499.7 260.1 500.2 263.6 500.5 267.0 C500.8 270.4 500.9 273.9 500.5 277.3 C500.1 280.8 499.3 284.5 498.4 287.7 C497.5 290.9 496.2 293.4 495.3 296.3 C494.4 299.2 493.3 302.1 492.7 305.0 C492.1 307.9 491.4 311.2 491.5 313.6 C491.6 316.0 492.1 318.3 493.6 319.6 C495.1 320.9 497.3 321.2 500.5 321.3 C503.7 321.4 508.9 320.5 512.6 320.5 C516.3 320.5 519.5 320.9 522.9 321.3 C526.3 321.7 529.8 322.4 533.3 323.1 C536.8 323.8 540.4 324.6 543.6 325.7 C546.8 326.8 550.4 329.3 552.3 330.0 C554.2 330.7 553.9 329.0 555.2 330.0 C556.5 331.0 558.9 333.9 560.3 336.1 C561.7 338.3 562.7 340.9 563.4 343.3 C564.1 345.7 564.6 348.0 564.4 350.4 C564.2 352.8 563.3 355.3 562.3 357.5 C561.3 359.7 560.0 361.9 558.3 363.6 C556.6 365.3 554.9 366.9 552.2 367.7 C549.5 368.5 545.4 368.5 542.0 368.7 C538.6 368.9 535.2 368.8 531.8 368.7 C528.4 368.6 525.0 368.3 521.6 368.2 C518.2 368.1 514.1 367.7 511.4 367.9 C508.7 368.1 507.0 368.8 505.3 369.3 C503.6 369.8 502.6 370.9 501.2 370.8 C499.8 370.7 498.5 369.9 497.1 368.7 C495.7 367.5 494.2 365.1 493.0 363.6 C491.8 362.1 491.2 361.0 490.0 359.6 C488.8 358.2 487.1 357.0 485.9 355.5 C484.7 354.0 483.6 352.4 482.8 350.4 C482.0 348.4 481.5 345.2 480.8 343.3 C480.1 341.4 480.4 340.0 478.7 339.2 C477.0 338.4 473.3 338.5 470.6 338.7 C467.9 338.9 464.4 338.9 462.4 340.2 C460.4 341.5 459.9 344.6 458.4 346.3 C456.9 348.0 454.5 348.7 453.3 350.4 C452.1 352.1 451.7 354.3 451.2 356.5 C450.7 358.7 451.0 361.2 450.2 363.6 C449.4 366.0 447.0 368.9 446.1 370.8 C445.2 372.7 444.6 373.5 445.1 374.9 C445.6 376.2 447.8 377.7 449.2 378.9 C450.6 380.1 451.8 381.3 453.3 382.0 C454.8 382.7 456.9 382.5 458.4 383.0 C459.9 383.5 461.0 384.1 462.4 385.1 C463.8 386.1 465.1 387.8 466.5 389.1 C467.9 390.5 469.2 391.7 470.6 393.2 C472.0 394.7 473.4 396.8 474.7 398.3 C476.0 399.8 477.2 401.0 478.7 402.4 C480.2 403.8 482.1 405.1 483.8 406.5 C485.5 407.9 487.0 409.6 488.9 410.5 C490.8 411.4 493.1 411.6 495.1 411.6 C497.2 411.6 499.2 411.0 501.2 410.5 C503.2 410.0 505.3 409.2 507.3 408.5 C509.3 407.8 511.4 406.6 513.4 406.0 C515.4 405.4 517.3 405.0 519.5 404.9 C521.7 404.8 524.3 405.0 526.7 405.4 C529.1 405.8 531.2 406.6 533.8 407.5 C536.3 408.4 541.0 409.9 542.0 410.5 C543.0 411.1 539.4 410.5 540.0 410.8 C540.6 411.1 543.7 411.9 545.5 412.5 C547.3 413.1 549.2 413.7 551.0 414.1 C552.8 414.6 554.7 414.9 556.5 415.2 C558.3 415.5 560.2 415.6 562.0 415.8 C563.8 416.0 565.7 415.8 567.5 416.3 C569.3 416.9 571.4 417.9 572.9 419.1 C574.4 420.3 575.1 422.1 576.2 423.5 C577.3 424.9 578.2 426.4 579.5 427.8 C580.8 429.2 582.4 430.7 583.9 432.2 C585.4 433.7 586.8 435.3 588.3 436.6 C589.8 437.9 591.4 438.8 592.7 439.9 C594.0 441.0 594.9 441.9 596.0 443.2 C597.1 444.5 598.4 446.1 599.3 447.6 C600.2 449.1 600.8 450.5 601.5 452.0 C602.2 453.5 603.0 454.9 603.7 456.4 C604.4 457.9 605.3 459.3 605.9 460.8 C606.5 462.3 606.8 463.7 607.5 465.2 C608.2 466.7 609.3 468.4 610.3 469.6 C611.3 470.8 612.4 471.7 613.6 472.3 C614.8 472.9 616.1 473.0 617.4 473.4 C618.7 473.8 619.9 473.9 621.3 474.5 C622.7 475.1 624.1 477.4 625.6 477.3 C627.1 477.2 628.5 475.3 630.0 474.0 C631.5 472.7 632.9 471.2 634.4 469.6 C635.9 468.0 637.3 466.1 638.8 464.1 C640.3 462.1 641.7 459.9 643.2 457.5 C644.7 455.1 646.3 452.4 647.6 449.8 C648.9 447.2 649.8 444.7 650.9 442.1 C652.0 439.5 653.1 437.1 654.2 434.4 C655.3 431.6 656.6 428.5 657.5 425.6 C658.4 422.7 659.0 420.2 659.7 416.9 C660.4 413.6 661.3 409.6 661.9 405.9 C662.5 402.2 663.0 398.6 663.5 394.9 C664.0 391.2 664.7 387.6 665.2 383.9 C665.7 380.2 666.0 376.5 666.3 372.9 C666.6 369.2 666.8 365.6 666.8 362.0 C666.8 358.4 666.6 354.7 666.3 351.0 C666.0 347.3 664.8 343.6 665.2 340.0 C665.6 336.4 667.8 332.6 668.6 329.1 C669.5 325.6 669.7 322.0 670.3 318.8 C670.9 315.6 671.0 312.7 672.0 310.1 C673.0 307.5 674.4 305.5 676.3 303.2 C678.2 300.9 681.2 298.9 683.2 296.3 C685.2 293.7 687.1 290.9 688.4 287.7 C689.7 284.5 690.5 280.8 691.0 277.3 C691.5 273.9 691.2 270.1 691.5 267.0 C691.8 263.9 692.1 261.3 692.7 258.4 C693.3 255.5 694.7 252.6 695.3 249.7 C695.9 246.8 696.6 243.7 696.2 241.1 C695.8 238.5 694.0 236.5 692.7 234.2 C691.4 231.9 690.0 229.8 688.4 227.3 C686.8 224.9 685.2 221.9 683.2 219.5 C681.2 217.1 678.9 215.0 676.3 212.6 C673.7 210.2 670.3 207.3 667.7 205.2 C665.1 203.1 661.9 200.9 660.8 200.0 L656 150 L516 150Z" fill="#ffffff"/>
<path d="M343.0 409.0 C344.3 410.0 348.6 413.5 350.7 415.0 C352.8 416.5 353.7 417.0 355.3 418.0 C356.9 419.0 358.4 421.0 360.4 421.1 C362.4 421.2 365.1 419.3 367.5 418.5 C369.9 417.7 372.5 417.9 374.7 416.5 C376.9 415.1 378.9 412.3 380.8 410.4 C382.7 408.5 384.5 406.6 385.9 405.3 C387.2 404.0 387.0 403.1 388.9 402.7 C390.8 402.3 394.4 403.1 397.1 403.1 C399.8 403.1 402.6 402.9 405.3 402.7 C408.0 402.5 411.4 401.9 413.4 402.2 C415.4 402.5 415.8 403.5 417.5 404.3 C419.2 405.1 421.2 406.0 423.6 406.8 C426.0 407.6 428.7 408.3 431.8 408.9 C434.9 409.5 438.6 409.7 442.0 410.4 C445.4 411.1 449.1 412.0 452.2 412.9 C455.2 413.8 457.3 414.9 460.3 416.0 C463.3 417.1 466.6 418.7 470.0 419.6 C473.4 420.5 477.5 421.3 481.0 421.5 C484.5 421.7 488.0 421.2 491.0 420.7 C494.0 420.2 496.6 419.3 499.1 418.7 C501.7 418.1 503.9 417.6 506.3 417.2 C508.7 416.8 510.8 416.3 513.4 416.2 C515.9 416.1 518.9 416.3 521.6 416.7 C524.3 417.1 527.0 418.2 529.7 418.7 C532.4 419.2 536.2 419.3 537.9 419.7 C539.6 420.1 538.5 420.7 540.0 421.3 C541.5 421.9 544.4 422.6 546.6 423.5 C548.8 424.4 551.0 425.4 553.2 426.7 C555.4 428.0 557.6 429.6 559.8 431.1 C562.0 432.6 564.2 434.2 566.4 435.5 C568.6 436.8 570.9 437.7 572.9 438.8 C574.9 439.9 576.6 440.8 578.4 442.1 C580.2 443.4 582.1 445.0 583.9 446.5 C585.7 448.0 587.9 449.4 589.4 450.9 C590.9 452.4 591.9 453.8 592.7 455.3 C593.6 456.8 594.2 457.6 594.5 460.0 C594.8 462.4 594.4 466.9 594.5 470.0 C594.6 473.1 594.8 476.1 595.1 478.8 C595.4 481.5 596.0 484.0 596.5 486.0 C597.0 488.0 597.5 489.2 598.4 490.9 C599.3 492.6 600.5 494.6 602.0 496.0 C603.5 497.4 605.4 498.9 607.2 499.1 C609.0 499.4 611.0 498.3 613.0 497.5 C615.0 496.7 617.1 495.5 619.3 494.2 C621.5 492.9 623.8 491.1 626.0 489.5 C628.2 487.9 630.4 486.5 632.5 484.3 C634.6 482.1 636.6 478.6 638.8 476.2 C640.9 473.8 643.2 472.2 645.4 469.6 C647.6 467.0 650.0 463.7 652.0 460.8 C654.0 457.9 655.9 454.9 657.5 452.0 C659.1 449.1 660.4 446.3 661.9 443.2 C663.4 440.1 665.0 436.6 666.3 433.3 C667.6 430.0 668.4 428.1 669.6 423.5 C670.8 418.9 672.1 412.3 673.4 405.9 C674.7 399.5 676.1 390.8 677.5 385.0 C678.9 379.2 680.8 375.1 682.0 371.0 C683.2 366.9 683.8 363.4 684.6 360.2 C685.4 356.9 685.8 354.1 686.7 351.5 C687.6 348.9 688.8 346.6 690.1 344.6 C691.4 342.6 693.0 340.6 694.4 339.5 C695.8 338.4 697.2 337.4 698.8 337.7 C700.4 338.0 702.2 340.2 703.9 341.2 C705.6 342.2 707.1 342.8 709.1 343.8 C711.1 344.8 714.0 346.2 716.0 347.2 C718.0 348.2 719.5 349.5 721.2 349.8 C722.9 350.1 724.4 349.9 726.4 349.0 C728.4 348.1 731.4 346.5 733.3 344.6 C735.2 342.7 736.8 340.3 737.6 337.7 C738.5 335.1 737.8 332.0 738.4 329.1 C739.0 326.2 739.7 322.9 741.0 320.5 C742.3 318.1 744.2 316.6 746.2 314.4 C748.2 312.1 751.9 308.2 753.0 307.0 L800.0 300.0 L800.0 640.0 L300.0 640.0 L300.0 409.0Z" fill="#b6c2ff"/>
<path d="M405.3 432.8 C407.2 432.1 408.7 431.9 411.4 431.8 C414.1 431.7 418.2 432.1 421.6 432.3 C425.0 432.6 428.4 433.1 431.8 433.3 C435.2 433.6 438.6 433.9 442.0 433.8 C445.4 433.7 448.8 433.3 452.2 432.8 C455.6 432.3 459.3 431.4 462.3 430.8 C465.3 430.2 466.8 429.2 470.0 429.3 C473.2 429.4 477.9 430.9 481.5 431.4 C485.1 431.9 488.4 432.3 491.9 432.3 C495.3 432.3 498.8 431.8 502.2 431.4 C505.6 431.0 509.2 430.2 512.6 429.7 C516.1 429.2 519.5 428.8 522.9 428.5 C526.3 428.2 530.4 427.9 533.3 428.0 C536.1 428.1 538.0 428.6 540.0 428.9 C542.0 429.1 543.7 429.1 545.5 429.5 C547.3 429.9 549.2 430.3 551.0 431.1 C552.8 431.9 554.7 433.1 556.5 434.4 C558.3 435.7 560.2 437.3 562.0 438.8 C563.8 440.3 565.9 441.6 567.5 443.2 C569.1 444.8 570.9 446.9 571.8 448.7 C572.7 450.5 572.5 452.4 572.9 454.2 C573.3 456.0 573.5 457.9 574.0 459.7 C574.5 461.5 575.5 463.2 576.2 465.2 C576.9 467.2 578.7 469.5 578.4 471.8 C578.1 474.1 574.9 476.0 574.5 478.9 C574.1 481.8 575.5 485.8 576.2 489.2 C576.9 492.6 578.2 496.4 578.8 499.6 C579.4 502.8 579.8 505.6 579.7 508.2 C579.6 510.8 579.1 513.4 578.0 515.1 C576.9 516.8 574.8 517.9 572.8 518.6 C570.8 519.3 568.2 519.5 565.9 519.4 C563.6 519.3 561.6 518.6 559.0 518.0 C556.4 517.4 553.6 515.8 550.5 515.5 C547.4 515.2 543.7 515.9 540.2 516.0 C536.8 516.1 533.2 516.3 529.8 516.0 C526.3 515.7 523.5 514.9 519.5 514.3 C515.5 513.7 510.3 512.9 505.7 512.5 C501.1 512.1 496.5 512.0 491.9 511.7 C487.3 511.4 482.2 511.2 478.0 510.8 C473.8 510.4 469.3 509.6 466.4 509.3 C463.4 509.0 462.3 508.8 460.3 508.8 C458.3 508.8 456.2 509.3 454.2 509.3 C452.2 509.3 450.1 509.1 448.1 508.8 C446.1 508.6 444.1 508.2 442.0 507.8 C439.9 507.4 437.9 507.1 435.8 506.7 C433.8 506.3 431.7 505.8 429.7 505.2 C427.7 504.6 425.6 503.8 423.6 503.2 C421.6 502.6 419.5 502.2 417.5 501.6 C415.5 501.0 413.4 500.5 411.4 499.6 C409.4 498.7 407.2 497.3 405.3 496.0 C403.4 494.7 401.9 493.4 400.2 492.0 C398.5 490.6 396.6 489.1 395.1 487.9 C393.6 486.7 392.0 485.8 391.0 484.8 C390.0 483.8 389.6 482.8 388.9 481.8 C388.2 480.8 387.9 479.9 386.9 478.7 C385.9 477.5 384.0 476.0 382.8 474.6 C381.6 473.2 380.4 472.0 379.8 470.5 C379.2 469.0 379.1 466.9 379.3 465.4 C379.5 463.9 380.1 462.8 380.8 461.4 C381.6 460.0 383.3 458.7 383.8 457.3 C384.3 455.9 383.5 454.6 383.8 453.2 C384.1 451.8 384.9 450.5 385.9 449.1 C386.9 447.8 388.5 446.6 390.0 445.1 C391.5 443.6 393.4 441.5 395.1 440.0 C396.8 438.5 398.5 437.1 400.2 435.9 C401.9 434.7 403.4 433.5 405.3 432.8Z" fill="#92a4ff"/>
<path d="M426.7 456.3 C428.6 455.5 431.2 455.2 433.8 455.3 C436.4 455.4 439.3 456.3 442.0 456.8 C444.7 457.3 447.6 457.9 450.1 458.3 C452.7 458.7 454.9 459.1 457.3 459.3 C459.7 459.5 462.3 459.5 464.4 459.3 C466.5 459.1 467.7 458.6 470.0 458.3 C472.3 458.0 475.2 457.9 478.0 457.3 C480.8 456.7 484.1 455.9 486.7 454.7 C489.3 453.5 491.3 451.8 493.6 450.4 C495.9 449.0 497.9 447.2 500.5 446.1 C503.1 445.0 505.9 444.1 509.1 443.5 C512.3 442.9 516.0 443.0 519.5 442.7 C523.0 442.4 526.4 441.9 529.8 441.8 C533.2 441.7 537.6 441.5 540.0 442.1 C542.4 442.7 542.9 444.1 544.4 445.4 C545.9 446.7 547.6 448.1 548.8 449.8 C550.0 451.5 550.7 453.4 551.5 455.3 C552.3 457.2 553.1 458.9 553.8 461.0 C554.5 463.1 555.1 465.6 555.5 468.0 C555.9 470.4 556.4 472.4 556.4 475.4 C556.4 478.4 556.0 482.5 555.5 485.8 C555.0 489.1 554.4 492.1 553.5 495.0 C552.6 497.9 551.4 501.0 550.0 503.0 C548.6 505.0 546.9 506.0 545.0 507.0 C543.1 508.0 540.9 508.9 538.4 509.1 C535.9 509.3 532.7 508.8 529.8 508.2 C526.9 507.6 524.7 506.3 521.2 505.6 C517.8 504.9 513.4 504.3 509.1 503.9 C504.8 503.5 499.9 503.4 495.3 503.0 C490.7 502.6 485.7 502.0 481.5 501.3 C477.3 500.6 472.7 499.1 470.0 498.6 C467.3 498.1 467.0 498.4 465.4 498.1 C463.8 497.9 462.2 497.5 460.3 497.1 C458.4 496.8 455.9 496.4 454.2 496.0 C452.5 495.6 451.5 495.7 450.1 495.0 C448.7 494.3 447.5 492.7 446.0 492.0 C444.5 491.3 442.2 491.6 440.9 490.9 C439.5 490.2 439.1 488.9 437.9 487.9 C436.7 486.9 434.8 485.8 433.8 484.8 C432.8 483.8 432.5 482.8 431.8 481.8 C431.1 480.8 430.9 479.6 429.7 478.7 C428.5 477.8 426.0 477.5 424.6 476.7 C423.2 475.9 422.8 474.5 421.6 473.6 C420.4 472.8 417.5 472.3 417.5 471.6 C417.5 470.9 419.9 470.4 421.6 469.5 C423.3 468.6 427.2 467.4 427.7 466.5 C428.2 465.6 425.5 464.9 424.6 463.9 C423.8 462.9 422.2 461.7 422.6 460.4 C423.0 459.1 424.8 457.1 426.7 456.3Z" fill="#6d85ff"/>
<path d="M498.8 475.4 C499.1 473.4 500.5 472.0 502.2 470.3 C503.9 468.6 506.5 466.6 509.1 465.1 C511.7 463.7 514.8 462.3 517.7 461.6 C520.6 460.9 524.1 460.5 526.4 460.8 C528.7 461.1 530.4 462.1 531.5 463.4 C532.6 464.7 533.4 466.5 533.3 468.5 C533.2 470.5 531.6 473.1 530.7 475.4 C529.8 477.7 529.4 480.4 528.1 482.3 C526.8 484.2 525.2 485.7 522.9 486.7 C520.6 487.7 517.2 488.5 514.3 488.4 C511.4 488.2 508.0 486.8 505.7 485.8 C503.4 484.8 501.6 484.0 500.5 482.3 C499.4 480.6 498.5 477.4 498.8 475.4Z" fill="#4967ff"/>
<path d="M644.0 562.0 C643.9 560.8 643.9 556.6 643.5 554.8 C643.1 553.0 642.4 553.1 641.8 551.4 C641.2 549.7 640.7 546.8 640.1 544.5 C639.5 542.2 639.4 540.2 638.4 537.6 C637.4 535.0 635.5 531.5 634.0 528.9 C632.5 526.3 631.0 524.3 629.7 522.0 C628.4 519.7 626.7 517.4 626.3 515.1 C625.9 512.8 626.2 510.5 627.1 508.2 C628.0 505.9 629.9 503.6 631.5 501.3 C633.1 499.0 634.6 497.0 636.6 494.4 C638.6 491.8 641.5 488.4 643.5 485.8 C645.5 483.2 646.8 481.5 648.7 478.9 C650.6 476.3 652.8 473.2 654.8 470.3 C656.8 467.4 658.8 464.5 660.8 461.6 C662.8 458.7 664.9 455.9 666.8 453.0 C668.7 450.1 670.4 447.3 672.0 444.4 C673.6 441.5 675.0 438.7 676.3 435.8 C677.6 432.9 678.6 430.3 679.8 427.1 C680.9 423.9 682.1 420.2 683.2 416.8 C684.4 413.4 685.6 409.8 686.7 406.4 C687.9 402.9 689.0 399.3 690.1 396.1 C691.2 392.9 692.5 390.3 693.6 387.4 C694.8 384.5 695.8 381.2 697.0 378.8 C698.2 376.4 698.5 373.8 700.7 372.7 C702.9 371.6 706.9 371.8 710.0 372.0 C713.1 372.2 716.2 373.1 719.3 374.0 C722.4 374.9 725.8 376.5 728.7 377.3 C731.6 378.1 734.5 378.6 736.7 378.7 C738.9 378.8 740.5 378.2 742.0 378.0 C743.5 377.8 744.5 376.6 746.0 377.3 C747.5 378.0 749.8 380.4 751.3 382.0 C752.8 383.6 753.2 384.9 754.7 386.7 C756.2 388.5 759.1 391.9 760.0 393.0 L800.0 400.0 L800.0 640.0 L640.0 640.0Z" fill="#92a4ff"/>
<path d="M751.3 420.7 C751.0 420.4 749.8 419.4 749.3 418.7 C748.8 418.0 748.8 418.1 748.0 416.7 C747.2 415.2 746.2 412.2 744.7 410.0 C743.2 407.8 741.5 405.6 739.3 403.3 C737.1 401.0 733.7 397.4 731.3 396.0 C728.9 394.6 727.1 395.1 724.7 395.1 C722.3 395.1 719.2 395.3 716.7 396.0 C714.2 396.7 712.0 397.9 710.0 399.3 C708.0 400.8 706.2 402.7 704.7 404.7 C703.2 406.7 701.9 408.9 700.7 411.3 C699.5 413.7 698.3 416.6 697.3 419.3 C696.3 422.0 695.7 424.6 694.7 427.3 C693.7 430.0 692.5 432.6 691.3 435.3 C690.1 438.0 688.6 440.6 687.3 443.3 C686.0 446.0 684.6 448.9 683.3 451.3 C682.0 453.8 680.8 455.6 679.3 458.0 C677.8 460.4 675.8 463.1 674.0 466.0 C672.2 468.9 670.5 472.0 668.7 475.3 C666.9 478.6 665.0 482.4 663.3 486.0 C661.6 489.6 659.8 493.6 658.7 496.7 C657.6 499.8 656.8 502.0 656.7 504.7 C656.6 507.4 657.3 509.8 658.0 512.7 C658.7 515.6 659.4 519.3 660.7 522.0 C662.0 524.7 664.0 527.6 666.0 528.7 C668.0 529.8 670.2 529.2 672.7 528.7 C675.2 528.2 678.3 527.1 680.7 526.0 C683.1 524.9 685.3 523.1 687.3 522.0 C689.3 520.9 691.1 519.3 692.7 519.3 C694.3 519.3 696.0 521.5 696.7 522.0 L720.0 560.0 L800.0 560.0 L800.0 420.0Z" fill="#6d85ff"/>
<path d="M719.3 428.7 C720.9 428.6 723.1 428.9 724.7 430.0 C726.3 431.1 728.0 433.3 728.7 435.3 C729.4 437.3 729.2 439.6 728.7 442.0 C728.2 444.4 727.0 447.3 726.0 450.0 C725.0 452.7 723.8 455.3 722.7 458.0 C721.6 460.7 720.8 463.9 719.3 466.0 C717.8 468.1 716.0 469.9 714.0 470.7 C712.0 471.5 709.1 471.5 707.3 470.7 C705.5 469.9 704.1 468.1 703.3 466.0 C702.5 463.9 702.5 460.7 702.7 458.0 C702.9 455.3 703.7 452.4 704.7 450.0 C705.7 447.6 707.5 445.8 708.7 443.3 C709.9 440.9 710.9 437.4 712.0 435.3 C713.1 433.2 714.1 431.8 715.3 430.7 C716.5 429.6 717.7 428.8 719.3 428.7Z" fill="#4967ff"/>
<path d="M388.0 498.0 C389.5 499.3 393.4 503.3 396.9 505.6 C400.4 507.9 405.0 509.8 409.0 511.7 C413.0 513.6 417.1 515.6 421.1 516.9 C425.1 518.2 428.9 519.1 433.2 519.4 C437.5 519.7 442.4 518.6 447.0 518.6 C451.6 518.6 456.2 519.1 460.8 519.4 C465.4 519.7 470.0 520.0 474.6 520.3 C479.2 520.6 483.8 521.1 488.4 521.2 C493.0 521.4 497.6 521.1 502.2 521.2 C506.8 521.3 511.4 521.7 516.0 522.0 C520.6 522.3 525.2 522.8 529.8 522.9 C534.4 523.0 539.0 522.9 543.6 522.9 C548.2 522.9 553.6 522.8 557.3 522.9 C561.0 523.0 563.0 523.8 565.9 523.8 C568.8 523.8 571.6 523.5 574.5 522.9 C577.4 522.3 580.5 520.9 583.1 520.3 C585.7 519.7 587.7 519.2 590.0 519.4 C592.3 519.5 594.6 520.2 596.9 521.2 C599.2 522.2 601.5 523.9 603.8 525.5 C606.1 527.1 608.8 528.7 610.8 530.7 C612.8 532.7 614.8 535.3 615.9 537.6 C617.0 539.9 617.6 542.2 617.7 544.5 C617.9 546.8 617.1 549.1 616.8 551.4 C616.5 553.7 615.9 556.0 615.9 558.3 C615.9 560.6 616.5 561.9 616.8 565.2 C617.1 568.5 617.4 575.9 617.5 578.0 L620.0 620.0 L380.0 620.0Z" fill="#dbe1ff"/>
<path d="M408.0 519.0 C409.8 519.9 414.9 523.2 418.5 524.6 C422.1 526.0 425.5 526.8 429.7 527.2 C433.9 527.6 438.3 527.4 443.5 527.2 C448.7 527.1 455.1 526.3 460.8 526.3 C466.6 526.3 472.2 526.8 478.0 527.2 C483.8 527.6 489.5 528.5 495.3 528.9 C501.1 529.3 506.9 529.5 512.6 529.8 C518.4 530.1 524.0 530.5 529.8 530.7 C535.5 531.0 542.5 530.9 547.1 531.3 C551.7 531.7 554.2 532.5 557.3 533.2 C560.4 534.0 563.0 534.8 565.9 535.8 C568.8 536.8 571.6 537.8 574.5 539.3 C577.4 540.8 580.5 542.8 583.1 544.5 C585.7 546.2 588.0 547.6 590.0 549.6 C592.0 551.6 593.9 554.2 595.2 556.5 C596.5 558.8 597.2 561.1 597.8 563.4 C598.4 565.7 598.5 567.2 598.7 570.3 C598.9 573.4 599.0 580.0 599.0 582.0 L620.0 620.0 L380.0 620.0Z" fill="#ffffff"/>
<path d="M430.0 546.0 C431.5 545.5 435.8 543.5 439.2 542.7 C442.6 541.9 446.2 541.4 450.4 541.0 C454.6 540.6 459.6 540.2 464.2 540.2 C468.8 540.2 473.4 540.6 478.0 541.0 C482.6 541.4 487.3 542.0 491.9 542.7 C496.5 543.4 501.1 544.4 505.7 545.3 C510.3 546.2 514.9 547.0 519.5 547.9 C524.1 548.8 528.7 549.6 533.3 550.5 C537.9 551.4 543.2 552.2 546.9 553.5 C550.6 554.8 552.6 556.6 555.5 558.3 C558.4 559.9 561.9 561.7 564.2 563.4 C566.5 565.1 567.9 566.7 569.3 568.6 C570.7 570.5 572.0 572.1 572.8 574.7 C573.6 577.3 573.8 582.5 574.0 584.0 L620.0 620.0 L380.0 620.0Z" fill="#ffe1db"/>
<path d="M440.0 553.0 C441.2 552.3 443.5 550.0 447.0 548.8 C450.5 547.6 456.2 546.2 460.8 545.8 C465.4 545.4 470.0 545.9 474.6 546.2 C479.2 546.6 483.8 547.2 488.4 547.9 C493.0 548.6 497.6 549.5 502.2 550.5 C506.8 551.5 511.4 553.0 516.0 554.0 C520.6 555.0 525.3 555.6 529.8 556.5 C534.3 557.4 540.0 558.4 543.0 559.5 C546.0 560.6 546.2 561.8 548.0 563.0 C549.8 564.2 552.2 565.4 553.8 566.9 C555.3 568.4 556.4 570.5 557.3 572.1 C558.2 573.7 558.5 574.1 559.0 576.4 C559.5 578.7 559.8 584.4 560.0 586.0 L620.0 620.0 L380.0 620.0Z" fill="#ffc2b6"/>
<path d="M450.0 559.0 C451.2 558.2 453.8 555.2 457.3 554.0 C460.8 552.8 466.5 551.9 471.1 551.7 C475.7 551.6 480.3 552.4 484.9 553.1 C489.5 553.8 494.2 554.7 498.8 555.7 C503.4 556.7 508.0 558.0 512.6 559.1 C517.2 560.2 521.8 561.5 526.4 562.6 C531.0 563.7 537.1 564.6 540.2 565.6 C543.3 566.6 543.7 567.4 545.2 568.6 C546.8 569.8 548.6 571.6 549.5 572.9 C550.4 574.2 550.1 574.2 550.4 576.4 C550.6 578.6 550.9 584.4 551.0 586.0 L620.0 620.0 L380.0 620.0Z" fill="#ffa492"/>
<path d="M460.0 564.0 C461.3 563.2 464.1 560.1 467.7 559.1 C471.3 558.1 476.9 557.8 481.5 557.9 C486.1 558.0 490.7 559.1 495.3 560.0 C499.9 560.9 504.5 562.1 509.1 563.4 C513.7 564.7 518.3 566.5 522.9 567.8 C527.5 569.1 533.3 570.2 536.7 571.2 C540.1 572.2 542.1 572.9 543.5 573.8 C544.9 574.7 544.8 574.4 545.2 576.4 C545.6 578.4 545.9 584.4 546.0 586.0 L620.0 620.0 L380.0 620.0Z" fill="#ff856d"/>
<path d="M476.0 571.0 C477.2 570.2 480.0 567.0 483.2 566.0 C486.4 565.0 491.6 564.9 495.3 565.2 C499.1 565.5 502.2 566.8 505.7 567.8 C509.1 568.8 512.5 570.1 516.0 571.2 C519.5 572.4 524.1 572.9 526.4 574.7 C528.7 576.5 529.4 580.8 530.0 582.0 L620.0 620.0 L380.0 620.0Z" fill="#ff6749"/>
<path d="M450.4 237.7 C453.0 238.1 457.6 239.7 460.8 241.1 C464.0 242.5 466.5 244.2 469.4 246.3 C472.3 248.5 476.2 251.1 478.1 254.0 C480.0 256.9 480.5 260.2 480.6 263.5 C480.7 266.8 479.3 270.4 478.9 273.9 C478.5 277.3 478.5 280.8 478.1 284.2 C477.7 287.6 477.5 291.7 476.3 294.6 C475.1 297.5 473.1 299.5 471.1 301.5 C469.1 303.5 466.8 305.0 464.2 306.7 C461.6 308.4 457.9 310.5 455.6 311.9 C453.3 313.3 452.4 313.6 450.4 315.3 C448.4 317.0 445.8 319.9 443.5 322.2 C441.2 324.5 439.2 327.4 436.6 329.1 C434.0 330.8 430.9 332.0 428.0 332.6 C425.1 333.2 421.4 333.5 419.4 332.6 C417.4 331.7 417.0 329.7 415.9 327.4 C414.8 325.1 413.6 322.2 412.5 318.8 C411.4 315.4 409.7 310.7 409.0 306.7 C408.3 302.7 408.2 298.4 408.2 294.6 C408.2 290.9 408.0 287.6 409.0 284.2 C410.0 280.8 412.6 277.0 414.2 273.9 C415.8 270.8 417.6 267.9 418.5 265.3 C419.4 262.7 418.4 260.7 419.4 258.4 C420.4 256.1 422.3 253.5 424.6 251.5 C426.9 249.5 430.6 247.8 433.2 246.3 C435.8 244.9 438.1 244.1 440.1 242.8 C442.1 241.5 443.6 239.3 445.3 238.5 C447.0 237.7 447.8 237.3 450.4 237.7Z" fill="#b6c2ff"/>
<path d="M537.6 223.8 C538.5 220.9 540.2 217.6 541.9 215.2 C543.6 212.8 545.7 211.1 548.0 209.5 C550.3 207.9 553.1 207.2 555.5 205.7 C557.9 204.2 560.1 202.2 562.4 200.6 C564.7 199.0 566.7 197.1 569.3 196.2 C571.9 195.3 575.4 195.0 578.0 195.4 C580.6 195.8 582.9 197.1 584.9 198.8 C586.9 200.5 588.3 203.7 590.0 205.7 C591.7 207.7 593.2 209.2 595.2 210.9 C597.2 212.6 599.5 214.8 602.1 216.1 C604.7 217.4 608.3 218.0 610.8 218.7 C613.2 219.4 615.1 219.1 616.8 220.4 C618.5 221.7 619.6 224.4 620.8 226.4 C621.9 228.4 622.7 230.3 623.7 232.5 C624.7 234.7 626.1 237.1 626.8 239.4 C627.5 241.7 627.8 244.3 627.7 246.3 C627.6 248.3 627.1 250.8 626.3 251.5 C625.5 252.2 623.7 251.5 622.8 250.6 C621.9 249.7 621.8 245.9 621.1 246.3 C620.4 246.7 619.6 251.0 618.5 253.2 C617.4 255.3 615.8 257.2 614.2 259.2 C612.6 261.2 610.7 263.4 609.0 265.3 C607.3 267.2 605.8 269.2 603.8 270.4 C601.8 271.6 599.2 272.1 596.9 272.5 C594.6 272.9 592.6 273.4 590.0 273.0 C587.4 272.6 584.3 271.4 581.4 270.4 C578.5 269.4 575.7 267.9 572.8 267.0 C569.9 266.1 566.8 265.4 564.2 264.9 C561.6 264.4 559.4 265.1 557.3 264.0 C555.2 262.9 553.2 260.8 551.4 258.4 C549.5 256.0 548.1 252.6 546.2 249.7 C544.3 246.8 541.8 244.0 540.2 241.1 C538.6 238.2 537.1 235.4 536.7 232.5 C536.3 229.6 536.7 226.7 537.6 223.8Z" fill="#ffe1db"/>
<path d="M551.0 372.9 C554.5 372.2 565.9 374.0 572.9 374.0 C579.9 374.0 588.5 373.9 592.7 372.9 C596.9 371.9 596.7 369.2 598.2 368.0 C599.7 366.8 599.9 366.8 601.5 365.8 C603.1 364.8 606.3 362.9 608.1 362.0 C609.9 361.1 611.0 360.3 612.5 360.3 C614.0 360.3 615.4 361.1 616.9 362.0 C618.4 362.9 618.9 365.1 621.3 365.8 C623.7 366.5 630.0 365.8 631.1 366.4 C632.2 367.0 627.1 368.2 627.8 369.6 C628.5 371.0 634.8 373.0 635.5 374.6 C636.2 376.2 631.8 378.3 632.2 379.5 C632.6 380.7 636.6 380.2 637.7 381.7 C638.8 383.2 638.5 386.1 638.8 388.3 C639.1 390.5 639.4 392.7 639.4 394.9 C639.4 397.1 638.7 399.3 638.8 401.5 C638.9 403.7 639.8 405.9 639.9 408.1 C640.0 410.3 639.8 412.7 639.4 414.7 C639.0 416.7 638.5 418.5 637.7 420.2 C636.9 421.9 635.5 423.5 634.4 424.6 C633.3 425.7 632.4 426.2 631.1 426.7 C629.8 427.2 628.0 428.0 626.7 427.8 C625.4 427.6 624.6 426.7 623.5 425.6 C622.4 424.5 621.3 422.8 620.2 421.3 C619.1 419.9 618.2 418.5 616.9 416.9 C615.6 415.2 614.0 413.0 612.5 411.4 C611.0 409.8 609.8 408.1 608.1 407.0 C606.5 405.9 604.4 405.5 602.6 404.8 C600.8 404.1 598.4 403.7 597.1 402.6 C595.8 401.5 596.4 399.3 594.9 398.2 C593.4 397.1 590.1 396.7 588.3 396.0 C586.5 395.3 585.5 394.5 583.9 393.8 C582.2 393.1 580.2 392.2 578.4 391.6 C576.6 391.0 574.7 390.6 572.9 390.0 C571.1 389.4 569.3 388.8 567.5 388.3 C565.7 387.8 563.3 387.8 562.0 387.2 C560.7 386.6 561.1 385.7 559.8 385.0 C558.5 384.3 555.6 383.9 554.3 382.8 C553.0 381.7 552.6 380.0 552.1 378.4 C551.6 376.8 547.5 373.6 551.0 372.9Z" fill="#ffe1db"/>
<path d="M344 362 L354 356.5 L356 358 L356 370 L355 378 L347 381 L344 381Z" fill="#b6c2ff"/>
<path d="M446 292 h4 v4 h-4Z" fill="#92a4ff"/>
<path d="M371 292.5 h3 v2.5 h-3Z" fill="#dbe1ff"/>
<path d="M529.8 343 l2 0 l1 9 l-2 0Z" fill="#b6c2ff"/>
</g></g>
<g transform="translate(0,990.0)"><use href="#grat"/><use href="#coast"/></g>
</g>
<circle cx="550.50" cy="1361.25" r="206.25" fill="none" stroke="#000" stroke-width="1.67"/>
<text x="550.50" y="1141.90" font-size="25.16" text-anchor="middle" textLength="241.64" lengthAdjust="spacingAndGlyphs">Model - Observation</text>
<text x="756.75" y="1142.50" font-size="19.69" text-anchor="end" textLength="34.34" lengthAdjust="spacingAndGlyphs">m/s</text>
<text x="790.50" y="1152.25" font-size="19.69" text-anchor="start" textLength="38.75" lengthAdjust="spacingAndGlyphs">Max</text>
<text x="918.00" y="1152.25" font-size="19.88" text-anchor="end" textLength="41.72" lengthAdjust="spacingAndGlyphs">5.21</text>
<text x="790.50" y="1174.25" font-size="19.69" text-anchor="start" textLength="51.08" lengthAdjust="spacingAndGlyphs">Mean</text>
<text x="918.00" y="1174.25" font-size="19.88" text-anchor="end" textLength="48.48" lengthAdjust="spacingAndGlyphs">-1.41</text>
<text x="790.50" y="1196.25" font-size="19.69" text-anchor="start" textLength="33.27" lengthAdjust="spacingAndGlyphs">Min</text>
<text x="918.00" y="1196.25" font-size="19.88" text-anchor="end" textLength="48.48" lengthAdjust="spacingAndGlyphs">-5.37</text>
<text x="790.50" y="1545.50" font-size="19.69" text-anchor="start" textLength="52.95" lengthAdjust="spacingAndGlyphs">RMSE</text>
<text x="918.00" y="1545.50" font-size="19.88" text-anchor="end" textLength="41.72" lengthAdjust="spacingAndGlyphs">2.27</text>
<text x="790.50" y="1567.50" font-size="19.69" text-anchor="start" textLength="53.92" lengthAdjust="spacingAndGlyphs">CORR</text>
<text x="918.00" y="1567.50" font-size="19.88" text-anchor="end" textLength="41.72" lengthAdjust="spacingAndGlyphs">0.96</text>
<g shape-rendering="auto">
<path d="M790.50 1227.35 L811.28 1213.41 L832.07 1227.35 Z" fill="#ff2a00"/>
<path d="M790.50 1495.15 L811.28 1509.09 L832.07 1495.15 Z" fill="#002aff"/>
<rect x="790.50" y="1477.43" width="41.56" height="18.52" fill="#002aff"/>
<rect x="790.50" y="1459.51" width="41.56" height="18.52" fill="#2448ff"/>
<rect x="790.50" y="1441.59" width="41.56" height="18.52" fill="#4967ff"/>
<rect x="790.50" y="1423.67" width="41.56" height="18.52" fill="#6d85ff"/>
<rect x="790.50" y="1405.75" width="41.56" height="18.52" fill="#92a4ff"/>
<rect x="790.50" y="1387.83" width="41.56" height="18.52" fill="#b6c2ff"/>
<rect x="790.50" y="1369.91" width="41.56" height="18.52" fill="#dbe1ff"/>
<rect x="790.50" y="1351.99" width="41.56" height="18.52" fill="#ffffff"/>
<rect x="790.50" y="1334.07" width="41.56" height="18.52" fill="#ffe1db"/>
<rect x="790.50" y="1316.15" width="41.56" height="18.52" fill="#ffc2b6"/>
<rect x="790.50" y="1298.23" width="41.56" height="18.52" fill="#ffa492"/>
<rect x="790.50" y="1280.31" width="41.56" height="18.52" fill="#ff856d"/>
<rect x="790.50" y="1262.39" width="41.56" height="18.52" fill="#ff6749"/>
<rect x="790.50" y="1244.47" width="41.56" height="18.52" fill="#ff4824"/>
<rect x="790.50" y="1226.55" width="41.56" height="18.52" fill="#ff2a00"/>
<path d="M811.28 1213.41 L832.07 1226.85 L832.07 1495.65 L811.28 1509.09 L790.50 1495.65 L790.50 1226.85 Z" fill="none" stroke="#000" stroke-width="1.67" stroke-linejoin="miter"/>
</g>
<text x="884.10" y="1485.13" font-size="19.88" text-anchor="end" textLength="48.48" lengthAdjust="spacingAndGlyphs">-8.00</text>
<text x="884.10" y="1467.21" font-size="19.88" text-anchor="end" textLength="48.48" lengthAdjust="spacingAndGlyphs">-6.00</text>
<text x="884.10" y="1449.29" font-size="19.88" text-anchor="end" textLength="48.48" lengthAdjust="spacingAndGlyphs">-5.00</text>
<text x="884.10" y="1431.37" font-size="19.88" text-anchor="end" textLength="48.48" lengthAdjust="spacingAndGlyphs">-4.00</text>
<text x="884.10" y="1413.45" font-size="19.88" text-anchor="end" textLength="48.48" lengthAdjust="spacingAndGlyphs">-3.00</text>
<text x="884.10" y="1395.53" font-size="19.88" text-anchor="end" textLength="48.48" lengthAdjust="spacingAndGlyphs">-2.00</text>
<text x="884.10" y="1377.61" font-size="19.88" text-anchor="end" textLength="48.48" lengthAdjust="spacingAndGlyphs">-1.00</text>
<text x="884.10" y="1359.69" font-size="19.88" text-anchor="end" textLength="41.72" lengthAdjust="spacingAndGlyphs">1.00</text>
<text x="884.10" y="1341.77" font-size="19.88" text-anchor="end" textLength="41.72" lengthAdjust="spacingAndGlyphs">2.00</text>
<text x="884.10" y="1323.85" font-size="19.88" text-anchor="end" textLength="41.72" lengthAdjust="spacingAndGlyphs">3.00</text>
<text x="884.10" y="1305.93" font-size="19.88" text-anchor="end" textLength="41.72" lengthAdjust="spacingAndGlyphs">4.00</text>
<text x="884.10" y="1288.01" font-size="19.88" text-anchor="end" textLength="41.72" lengthAdjust="spacingAndGlyphs">5.00</text>
<text x="884.10" y="1270.09" font-size="19.88" text-anchor="end" textLength="41.72" lengthAdjust="spacingAndGlyphs">6.00</text>
<text x="884.10" y="1252.17" font-size="19.88" text-anchor="end" textLength="41.72" lengthAdjust="spacingAndGlyphs">8.00</text>
</svg>
</body></html>
